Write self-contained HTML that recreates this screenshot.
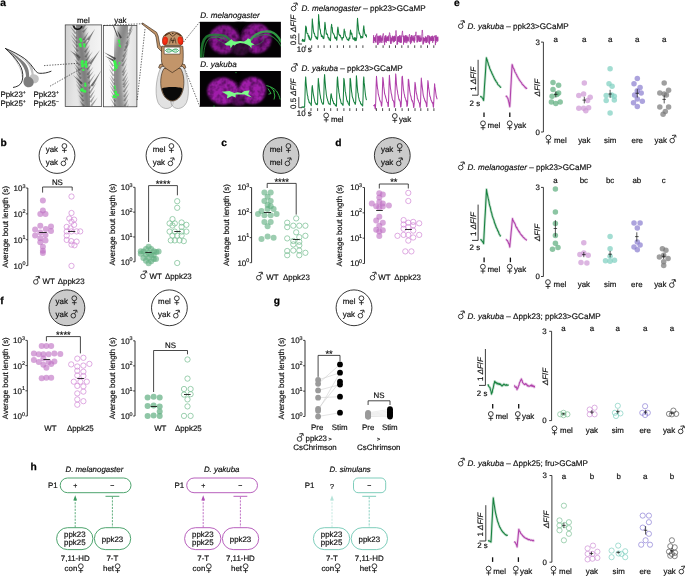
<!DOCTYPE html>
<html><head><meta charset="utf-8"><title>figure</title><style>html,body{margin:0;padding:0;background:#fff}svg{display:block;will-change:transform;text-rendering:geometricPrecision}</style></head><body>
<svg width="685" height="576" viewBox="0 0 685 576" font-family="'Liberation Sans', sans-serif">
<rect width="685" height="576" fill="#fff"/>
<text x="0.2" y="5.7" font-size="10.2" text-anchor="start" fill="#000" font-weight="bold" stroke="#000" stroke-width="0.25">a</text>
<text x="0.4" y="145.9" font-size="10.2" text-anchor="start" fill="#000" font-weight="bold" stroke="#000" stroke-width="0.25">b</text>
<text x="221.2" y="145.9" font-size="10.2" text-anchor="start" fill="#000" font-weight="bold" stroke="#000" stroke-width="0.25">c</text>
<text x="335.3" y="145.9" font-size="10.2" text-anchor="start" fill="#000" font-weight="bold" stroke="#000" stroke-width="0.25">d</text>
<text x="454.0" y="5.7" font-size="10.2" text-anchor="start" fill="#000" font-weight="bold" stroke="#000" stroke-width="0.25">e</text>
<text x="0.3" y="303.8" font-size="10.2" text-anchor="start" fill="#000" font-weight="bold" stroke="#000" stroke-width="0.25">f</text>
<text x="273.8" y="303.6" font-size="10.2" text-anchor="start" fill="#000" font-weight="bold" stroke="#000" stroke-width="0.25">g</text>
<text x="30.6" y="470.3" font-size="10.2" text-anchor="start" fill="#000" font-weight="bold" stroke="#000" stroke-width="0.25">h</text>
<circle cx="57" cy="155.5" r="17.9" fill="#ffffff" stroke="#222" stroke-width="0.9"/>
<text x="45.7" y="151.5" font-size="7.9" text-anchor="start" fill="#111" stroke="#111" stroke-width="0.18" >yak</text>
<g stroke="#1a1a1a" stroke-width="0.85" fill="none"><circle cx="64.40" cy="146.00" r="2.4"/><path d="M64.40 148.40V152.80M62.05 150.40H66.75"/></g>
<text x="45.7" y="164.6" font-size="7.9" text-anchor="start" fill="#111" stroke="#111" stroke-width="0.18" >yak</text>
<g stroke="#1a1a1a" stroke-width="0.85" fill="none"><circle cx="63.40" cy="163.40" r="2.3"/><path d="M64.70 161.50L66.60 158.10"/><path d="M63.20 158.30L66.80 157.80L67.30 160.20" stroke-linejoin="miter"/></g>
<path d="M27.8 188.0V265.6" stroke="#1a1a1a" stroke-width="0.9" fill="none"/>
<path d="M25.900000000000002 188.0H27.8" stroke="#1a1a1a" stroke-width="0.8"/>
<text x="22.5" y="190.9" font-size="8.0" text-anchor="end" fill="#111" stroke="#111" stroke-width="0.18" >10</text>
<text x="22.4" y="187.6" font-size="5.4" text-anchor="start" fill="#111" stroke="#111" stroke-width="0.18" >3</text>
<path d="M25.900000000000002 213.86666666666667H27.8" stroke="#1a1a1a" stroke-width="0.8"/>
<text x="22.5" y="216.76666666666668" font-size="8.0" text-anchor="end" fill="#111" stroke="#111" stroke-width="0.18" >10</text>
<text x="22.4" y="213.46666666666667" font-size="5.4" text-anchor="start" fill="#111" stroke="#111" stroke-width="0.18" >2</text>
<path d="M25.900000000000002 239.73333333333335H27.8" stroke="#1a1a1a" stroke-width="0.8"/>
<text x="22.5" y="242.63333333333335" font-size="8.0" text-anchor="end" fill="#111" stroke="#111" stroke-width="0.18" >10</text>
<text x="22.4" y="239.33333333333334" font-size="5.4" text-anchor="start" fill="#111" stroke="#111" stroke-width="0.18" >1</text>
<path d="M25.900000000000002 265.6H27.8" stroke="#1a1a1a" stroke-width="0.8"/>
<text x="22.5" y="268.5" font-size="8.0" text-anchor="end" fill="#111" stroke="#111" stroke-width="0.18" >10</text>
<text x="22.4" y="265.20000000000005" font-size="5.4" text-anchor="start" fill="#111" stroke="#111" stroke-width="0.18" >0</text>
<text x="8.3" y="226.8" font-size="7.9" text-anchor="middle" fill="#111" stroke="#111" stroke-width="0.18" transform="rotate(-90 8.3 226.8)" >Average bout length (s)</text>
<path d="M42.6 192.6V187.0H72.2V190.6" stroke="#1a1a1a" stroke-width="0.8" fill="none"/>
<text x="57.400000000000006" y="184.6" font-size="7.9" text-anchor="middle" fill="#111" stroke="#111" stroke-width="0.18" >NS</text>
<circle cx="42.9" cy="200.5" r="3.0" fill="#bf6fc3" fill-opacity="0.62"/>
<circle cx="42.9" cy="210.6" r="3.0" fill="#bf6fc3" fill-opacity="0.62"/>
<circle cx="40.3" cy="213.9" r="3.0" fill="#bf6fc3" fill-opacity="0.62"/>
<circle cx="45.5" cy="213.9" r="3.0" fill="#bf6fc3" fill-opacity="0.62"/>
<circle cx="40.3" cy="225.7" r="3.0" fill="#bf6fc3" fill-opacity="0.62"/>
<circle cx="51.0" cy="226.5" r="3.0" fill="#bf6fc3" fill-opacity="0.62"/>
<circle cx="35.1" cy="229.5" r="3.0" fill="#bf6fc3" fill-opacity="0.62"/>
<circle cx="45.8" cy="229.1" r="3.0" fill="#bf6fc3" fill-opacity="0.62"/>
<circle cx="51.0" cy="231.0" r="3.0" fill="#bf6fc3" fill-opacity="0.62"/>
<circle cx="40.3" cy="232.6" r="3.0" fill="#bf6fc3" fill-opacity="0.62"/>
<circle cx="45.5" cy="234.9" r="3.0" fill="#bf6fc3" fill-opacity="0.62"/>
<circle cx="35.1" cy="235.6" r="3.0" fill="#bf6fc3" fill-opacity="0.62"/>
<circle cx="40.3" cy="238.2" r="3.0" fill="#bf6fc3" fill-opacity="0.62"/>
<circle cx="45.5" cy="240.4" r="3.0" fill="#bf6fc3" fill-opacity="0.62"/>
<circle cx="40.3" cy="242.2" r="3.0" fill="#bf6fc3" fill-opacity="0.62"/>
<circle cx="42.9" cy="246.8" r="3.0" fill="#bf6fc3" fill-opacity="0.62"/>
<circle cx="42.9" cy="250.8" r="3.0" fill="#bf6fc3" fill-opacity="0.62"/>
<circle cx="42.9" cy="253.1" r="3.0" fill="#bf6fc3" fill-opacity="0.62"/>
<circle cx="71.5" cy="196.5" r="2.65" fill="none" stroke="#d48fd8" stroke-width="0.75"/>
<circle cx="71.5" cy="213.0" r="2.65" fill="none" stroke="#d48fd8" stroke-width="0.75"/>
<circle cx="69.3" cy="218.5" r="2.65" fill="none" stroke="#d48fd8" stroke-width="0.75"/>
<circle cx="74.1" cy="219.6" r="2.65" fill="none" stroke="#d48fd8" stroke-width="0.75"/>
<circle cx="71.5" cy="221.7" r="2.65" fill="none" stroke="#d48fd8" stroke-width="0.75"/>
<circle cx="74.1" cy="224.8" r="2.65" fill="none" stroke="#d48fd8" stroke-width="0.75"/>
<circle cx="66.7" cy="226.9" r="2.65" fill="none" stroke="#d48fd8" stroke-width="0.75"/>
<circle cx="70.5" cy="228.3" r="2.65" fill="none" stroke="#d48fd8" stroke-width="0.75"/>
<circle cx="66.7" cy="231.4" r="2.65" fill="none" stroke="#d48fd8" stroke-width="0.75"/>
<circle cx="71.5" cy="231.4" r="2.65" fill="none" stroke="#d48fd8" stroke-width="0.75"/>
<circle cx="76.6" cy="231.4" r="2.65" fill="none" stroke="#d48fd8" stroke-width="0.75"/>
<circle cx="80.2" cy="231.4" r="2.65" fill="none" stroke="#d48fd8" stroke-width="0.75"/>
<circle cx="66.7" cy="235.6" r="2.65" fill="none" stroke="#d48fd8" stroke-width="0.75"/>
<circle cx="66.7" cy="239.9" r="2.65" fill="none" stroke="#d48fd8" stroke-width="0.75"/>
<circle cx="71.2" cy="241.1" r="2.65" fill="none" stroke="#d48fd8" stroke-width="0.75"/>
<circle cx="76.6" cy="241.6" r="2.65" fill="none" stroke="#d48fd8" stroke-width="0.75"/>
<circle cx="71.5" cy="244.6" r="2.65" fill="none" stroke="#d48fd8" stroke-width="0.75"/>
<circle cx="74.5" cy="245.3" r="2.65" fill="none" stroke="#d48fd8" stroke-width="0.75"/>
<circle cx="71.5" cy="265.9" r="2.65" fill="none" stroke="#d48fd8" stroke-width="0.75"/>
<path d="M39.2 232.5H46.7" stroke="#1a1a1a" stroke-width="0.9"/>
<path d="M68.1 231.5H75.3" stroke="#1a1a1a" stroke-width="0.9"/>
<g stroke="#1a1a1a" stroke-width="0.85" fill="none"><circle cx="35.80" cy="281.90" r="2.3"/><path d="M37.10 280.00L39.00 276.60"/><path d="M35.60 276.80L39.20 276.30L39.70 278.70" stroke-linejoin="miter"/></g>
<text x="42.6" y="284.3" font-size="7.9" text-anchor="start" fill="#111" stroke="#111" stroke-width="0.18" >WT</text>
<text x="57.8" y="284.3" font-size="7.9" text-anchor="start" fill="#111" stroke="#111" stroke-width="0.18" >Δppk23</text>
<circle cx="164" cy="155.5" r="17.9" fill="#ffffff" stroke="#222" stroke-width="0.9"/>
<text x="152.7" y="151.5" font-size="7.9" text-anchor="start" fill="#111" stroke="#111" stroke-width="0.18" >mel</text>
<g stroke="#1a1a1a" stroke-width="0.85" fill="none"><circle cx="171.40" cy="146.00" r="2.4"/><path d="M171.40 148.40V152.80M169.05 150.40H173.75"/></g>
<text x="152.7" y="164.6" font-size="7.9" text-anchor="start" fill="#111" stroke="#111" stroke-width="0.18" >yak</text>
<g stroke="#1a1a1a" stroke-width="0.85" fill="none"><circle cx="170.40" cy="163.40" r="2.3"/><path d="M171.70 161.50L173.60 158.10"/><path d="M170.20 158.30L173.80 157.80L174.30 160.20" stroke-linejoin="miter"/></g>
<path d="M135.0 187.3V261.8" stroke="#1a1a1a" stroke-width="0.9" fill="none"/>
<path d="M133.1 187.3H135.0" stroke="#1a1a1a" stroke-width="0.8"/>
<text x="129.7" y="190.20000000000002" font-size="8.0" text-anchor="end" fill="#111" stroke="#111" stroke-width="0.18" >10</text>
<text x="129.6" y="186.9" font-size="5.4" text-anchor="start" fill="#111" stroke="#111" stroke-width="0.18" >3</text>
<path d="M133.1 212.13333333333335H135.0" stroke="#1a1a1a" stroke-width="0.8"/>
<text x="129.7" y="215.03333333333336" font-size="8.0" text-anchor="end" fill="#111" stroke="#111" stroke-width="0.18" >10</text>
<text x="129.6" y="211.73333333333335" font-size="5.4" text-anchor="start" fill="#111" stroke="#111" stroke-width="0.18" >2</text>
<path d="M133.1 236.96666666666667H135.0" stroke="#1a1a1a" stroke-width="0.8"/>
<text x="129.7" y="239.86666666666667" font-size="8.0" text-anchor="end" fill="#111" stroke="#111" stroke-width="0.18" >10</text>
<text x="129.6" y="236.56666666666666" font-size="5.4" text-anchor="start" fill="#111" stroke="#111" stroke-width="0.18" >1</text>
<path d="M133.1 261.8H135.0" stroke="#1a1a1a" stroke-width="0.8"/>
<text x="129.7" y="264.7" font-size="8.0" text-anchor="end" fill="#111" stroke="#111" stroke-width="0.18" >10</text>
<text x="129.6" y="261.40000000000003" font-size="5.4" text-anchor="start" fill="#111" stroke="#111" stroke-width="0.18" >0</text>
<text x="115.5" y="224.55" font-size="7.9" text-anchor="middle" fill="#111" stroke="#111" stroke-width="0.18" transform="rotate(-90 115.5 224.55)" >Average bout length (s)</text>
<path d="M148.6 242V185.6H177.4V195.3" stroke="#1a1a1a" stroke-width="0.8" fill="none"/>
<text x="163.0" y="186.8" font-size="9.4" text-anchor="middle" fill="#111" stroke="#111" stroke-width="0.18" >****</text>
<circle cx="148.6" cy="246.8" r="3.0" fill="#5fae80" fill-opacity="0.62"/>
<circle cx="146.0" cy="249.1" r="3.0" fill="#5fae80" fill-opacity="0.62"/>
<circle cx="151.2" cy="249.1" r="3.0" fill="#5fae80" fill-opacity="0.62"/>
<circle cx="140.8" cy="251.2" r="3.0" fill="#5fae80" fill-opacity="0.62"/>
<circle cx="143.5" cy="251.5" r="3.0" fill="#5fae80" fill-opacity="0.62"/>
<circle cx="153.8" cy="251.2" r="3.0" fill="#5fae80" fill-opacity="0.62"/>
<circle cx="156.4" cy="252.0" r="3.0" fill="#5fae80" fill-opacity="0.62"/>
<circle cx="158.6" cy="251.5" r="3.0" fill="#5fae80" fill-opacity="0.62"/>
<circle cx="148.6" cy="252.9" r="3.0" fill="#5fae80" fill-opacity="0.62"/>
<circle cx="146.0" cy="254.7" r="3.0" fill="#5fae80" fill-opacity="0.62"/>
<circle cx="151.2" cy="255.0" r="3.0" fill="#5fae80" fill-opacity="0.62"/>
<circle cx="140.8" cy="253.8" r="3.0" fill="#5fae80" fill-opacity="0.62"/>
<circle cx="153.8" cy="255.0" r="3.0" fill="#5fae80" fill-opacity="0.62"/>
<circle cx="143.4" cy="258.1" r="3.0" fill="#5fae80" fill-opacity="0.62"/>
<circle cx="148.6" cy="258.1" r="3.0" fill="#5fae80" fill-opacity="0.62"/>
<circle cx="153.8" cy="259.0" r="3.0" fill="#5fae80" fill-opacity="0.62"/>
<circle cx="156.0" cy="259.0" r="3.0" fill="#5fae80" fill-opacity="0.62"/>
<circle cx="146.0" cy="260.7" r="3.0" fill="#5fae80" fill-opacity="0.62"/>
<circle cx="151.2" cy="261.2" r="3.0" fill="#5fae80" fill-opacity="0.62"/>
<circle cx="148.6" cy="263.3" r="3.0" fill="#5fae80" fill-opacity="0.62"/>
<circle cx="177.2" cy="201.2" r="2.65" fill="none" stroke="#7cc095" stroke-width="0.75"/>
<circle cx="177.2" cy="207.8" r="2.65" fill="none" stroke="#7cc095" stroke-width="0.75"/>
<circle cx="172.5" cy="219.1" r="2.65" fill="none" stroke="#7cc095" stroke-width="0.75"/>
<circle cx="169.6" cy="223.4" r="2.65" fill="none" stroke="#7cc095" stroke-width="0.75"/>
<circle cx="174.8" cy="223.4" r="2.65" fill="none" stroke="#7cc095" stroke-width="0.75"/>
<circle cx="181.6" cy="222.5" r="2.65" fill="none" stroke="#7cc095" stroke-width="0.75"/>
<circle cx="186.4" cy="224.8" r="2.65" fill="none" stroke="#7cc095" stroke-width="0.75"/>
<circle cx="172.5" cy="225.5" r="2.65" fill="none" stroke="#7cc095" stroke-width="0.75"/>
<circle cx="181.6" cy="226.9" r="2.65" fill="none" stroke="#7cc095" stroke-width="0.75"/>
<circle cx="169.6" cy="231.6" r="2.65" fill="none" stroke="#7cc095" stroke-width="0.75"/>
<circle cx="174.8" cy="231.6" r="2.65" fill="none" stroke="#7cc095" stroke-width="0.75"/>
<circle cx="181.6" cy="231.6" r="2.65" fill="none" stroke="#7cc095" stroke-width="0.75"/>
<circle cx="186.4" cy="231.6" r="2.65" fill="none" stroke="#7cc095" stroke-width="0.75"/>
<circle cx="172.5" cy="235.6" r="2.65" fill="none" stroke="#7cc095" stroke-width="0.75"/>
<circle cx="177.2" cy="235.6" r="2.65" fill="none" stroke="#7cc095" stroke-width="0.75"/>
<circle cx="181.6" cy="235.6" r="2.65" fill="none" stroke="#7cc095" stroke-width="0.75"/>
<circle cx="170.8" cy="240.4" r="2.65" fill="none" stroke="#7cc095" stroke-width="0.75"/>
<circle cx="174.8" cy="240.4" r="2.65" fill="none" stroke="#7cc095" stroke-width="0.75"/>
<circle cx="179.5" cy="240.4" r="2.65" fill="none" stroke="#7cc095" stroke-width="0.75"/>
<circle cx="183.8" cy="241.1" r="2.65" fill="none" stroke="#7cc095" stroke-width="0.75"/>
<circle cx="177.2" cy="263.0" r="2.65" fill="none" stroke="#7cc095" stroke-width="0.75"/>
<path d="M145.3 252.5H151.7" stroke="#1a1a1a" stroke-width="0.9"/>
<path d="M174.3 231.5H180.7" stroke="#1a1a1a" stroke-width="0.9"/>
<g stroke="#1a1a1a" stroke-width="0.85" fill="none"><circle cx="143.00" cy="276.40" r="2.3"/><path d="M144.30 274.50L146.20 271.10"/><path d="M142.80 271.30L146.40 270.80L146.90 273.20" stroke-linejoin="miter"/></g>
<text x="149.6" y="278.8" font-size="7.9" text-anchor="start" fill="#111" stroke="#111" stroke-width="0.18" >WT</text>
<text x="164.9" y="278.8" font-size="7.9" text-anchor="start" fill="#111" stroke="#111" stroke-width="0.18" >Δppk23</text>
<circle cx="281.0" cy="155.5" r="17.9" fill="#cbcbcb" stroke="#222" stroke-width="0.9"/>
<text x="269.7" y="151.5" font-size="7.9" text-anchor="start" fill="#111" stroke="#111" stroke-width="0.18" >mel</text>
<g stroke="#1a1a1a" stroke-width="0.85" fill="none"><circle cx="288.40" cy="146.00" r="2.4"/><path d="M288.40 148.40V152.80M286.05 150.40H290.75"/></g>
<text x="269.7" y="164.6" font-size="7.9" text-anchor="start" fill="#111" stroke="#111" stroke-width="0.18" >mel</text>
<g stroke="#1a1a1a" stroke-width="0.85" fill="none"><circle cx="287.40" cy="163.40" r="2.3"/><path d="M288.70 161.50L290.60 158.10"/><path d="M287.20 158.30L290.80 157.80L291.30 160.20" stroke-linejoin="miter"/></g>
<path d="M251.6 187.5V262.7" stroke="#1a1a1a" stroke-width="0.9" fill="none"/>
<path d="M249.7 187.5H251.6" stroke="#1a1a1a" stroke-width="0.8"/>
<text x="246.29999999999998" y="190.4" font-size="8.0" text-anchor="end" fill="#111" stroke="#111" stroke-width="0.18" >10</text>
<text x="246.2" y="187.1" font-size="5.4" text-anchor="start" fill="#111" stroke="#111" stroke-width="0.18" >3</text>
<path d="M249.7 212.56666666666666H251.6" stroke="#1a1a1a" stroke-width="0.8"/>
<text x="246.29999999999998" y="215.46666666666667" font-size="8.0" text-anchor="end" fill="#111" stroke="#111" stroke-width="0.18" >10</text>
<text x="246.2" y="212.16666666666666" font-size="5.4" text-anchor="start" fill="#111" stroke="#111" stroke-width="0.18" >2</text>
<path d="M249.7 237.63333333333333H251.6" stroke="#1a1a1a" stroke-width="0.8"/>
<text x="246.29999999999998" y="240.53333333333333" font-size="8.0" text-anchor="end" fill="#111" stroke="#111" stroke-width="0.18" >10</text>
<text x="246.2" y="237.23333333333332" font-size="5.4" text-anchor="start" fill="#111" stroke="#111" stroke-width="0.18" >1</text>
<path d="M249.7 262.7H251.6" stroke="#1a1a1a" stroke-width="0.8"/>
<text x="246.29999999999998" y="265.59999999999997" font-size="8.0" text-anchor="end" fill="#111" stroke="#111" stroke-width="0.18" >10</text>
<text x="246.2" y="262.3" font-size="5.4" text-anchor="start" fill="#111" stroke="#111" stroke-width="0.18" >0</text>
<text x="228.6" y="225.1" font-size="7.9" text-anchor="middle" fill="#111" stroke="#111" stroke-width="0.18" transform="rotate(-90 228.6 225.1)" >Average bout length (s)</text>
<path d="M267.2 188V183.4H296.2V214.6" stroke="#1a1a1a" stroke-width="0.8" fill="none"/>
<text x="281.7" y="184.5" font-size="9.4" text-anchor="middle" fill="#111" stroke="#111" stroke-width="0.18" >****</text>
<circle cx="264.4" cy="192.4" r="3.0" fill="#5fae80" fill-opacity="0.62"/>
<circle cx="270.7" cy="192.4" r="3.0" fill="#5fae80" fill-opacity="0.62"/>
<circle cx="267.6" cy="196.7" r="3.0" fill="#5fae80" fill-opacity="0.62"/>
<circle cx="264.4" cy="201.0" r="3.0" fill="#5fae80" fill-opacity="0.62"/>
<circle cx="270.7" cy="201.0" r="3.0" fill="#5fae80" fill-opacity="0.62"/>
<circle cx="267.6" cy="204.9" r="3.0" fill="#5fae80" fill-opacity="0.62"/>
<circle cx="270.7" cy="206.2" r="3.0" fill="#5fae80" fill-opacity="0.62"/>
<circle cx="273.6" cy="208.9" r="3.0" fill="#5fae80" fill-opacity="0.62"/>
<circle cx="261.5" cy="211.1" r="3.0" fill="#5fae80" fill-opacity="0.62"/>
<circle cx="267.6" cy="208.9" r="3.0" fill="#5fae80" fill-opacity="0.62"/>
<circle cx="258.0" cy="214.1" r="3.0" fill="#5fae80" fill-opacity="0.62"/>
<circle cx="264.4" cy="215.3" r="3.0" fill="#5fae80" fill-opacity="0.62"/>
<circle cx="270.7" cy="215.3" r="3.0" fill="#5fae80" fill-opacity="0.62"/>
<circle cx="276.6" cy="214.1" r="3.0" fill="#5fae80" fill-opacity="0.62"/>
<circle cx="264.4" cy="221.9" r="3.0" fill="#5fae80" fill-opacity="0.62"/>
<circle cx="270.7" cy="221.9" r="3.0" fill="#5fae80" fill-opacity="0.62"/>
<circle cx="267.6" cy="226.2" r="3.0" fill="#5fae80" fill-opacity="0.62"/>
<circle cx="261.5" cy="238.9" r="3.0" fill="#5fae80" fill-opacity="0.62"/>
<circle cx="267.6" cy="236.6" r="3.0" fill="#5fae80" fill-opacity="0.62"/>
<circle cx="273.6" cy="237.8" r="3.0" fill="#5fae80" fill-opacity="0.62"/>
<circle cx="296.2" cy="218.4" r="2.65" fill="none" stroke="#7cc095" stroke-width="0.75"/>
<circle cx="287.2" cy="222.7" r="2.65" fill="none" stroke="#7cc095" stroke-width="0.75"/>
<circle cx="287.2" cy="227.1" r="2.65" fill="none" stroke="#7cc095" stroke-width="0.75"/>
<circle cx="293.3" cy="225.7" r="2.65" fill="none" stroke="#7cc095" stroke-width="0.75"/>
<circle cx="299.3" cy="225.7" r="2.65" fill="none" stroke="#7cc095" stroke-width="0.75"/>
<circle cx="305.4" cy="225.7" r="2.65" fill="none" stroke="#7cc095" stroke-width="0.75"/>
<circle cx="296.2" cy="232.3" r="2.65" fill="none" stroke="#7cc095" stroke-width="0.75"/>
<circle cx="305.4" cy="235.8" r="2.65" fill="none" stroke="#7cc095" stroke-width="0.75"/>
<circle cx="287.2" cy="238.4" r="2.65" fill="none" stroke="#7cc095" stroke-width="0.75"/>
<circle cx="299.3" cy="237.2" r="2.65" fill="none" stroke="#7cc095" stroke-width="0.75"/>
<circle cx="293.3" cy="241.0" r="2.65" fill="none" stroke="#7cc095" stroke-width="0.75"/>
<circle cx="299.3" cy="241.8" r="2.65" fill="none" stroke="#7cc095" stroke-width="0.75"/>
<circle cx="293.3" cy="244.4" r="2.65" fill="none" stroke="#7cc095" stroke-width="0.75"/>
<circle cx="299.3" cy="245.3" r="2.65" fill="none" stroke="#7cc095" stroke-width="0.75"/>
<circle cx="287.2" cy="251.0" r="2.65" fill="none" stroke="#7cc095" stroke-width="0.75"/>
<circle cx="293.3" cy="250.5" r="2.65" fill="none" stroke="#7cc095" stroke-width="0.75"/>
<circle cx="299.3" cy="250.5" r="2.65" fill="none" stroke="#7cc095" stroke-width="0.75"/>
<circle cx="305.4" cy="252.8" r="2.65" fill="none" stroke="#7cc095" stroke-width="0.75"/>
<circle cx="287.2" cy="255.2" r="2.65" fill="none" stroke="#7cc095" stroke-width="0.75"/>
<circle cx="299.3" cy="255.2" r="2.65" fill="none" stroke="#7cc095" stroke-width="0.75"/>
<path d="M263.8 212.5H271.0" stroke="#1a1a1a" stroke-width="0.9"/>
<path d="M292.7 239.5H299.7" stroke="#1a1a1a" stroke-width="0.9"/>
<g stroke="#1a1a1a" stroke-width="0.85" fill="none"><circle cx="258.80" cy="277.70" r="2.3"/><path d="M260.10 275.80L262.00 272.40"/><path d="M258.60 272.60L262.20 272.10L262.70 274.50" stroke-linejoin="miter"/></g>
<text x="266.3" y="280.1" font-size="7.9" text-anchor="start" fill="#111" stroke="#111" stroke-width="0.18" >WT</text>
<text x="283.0" y="280.1" font-size="7.9" text-anchor="start" fill="#111" stroke="#111" stroke-width="0.18" >Δppk23</text>
<circle cx="392.3" cy="155.5" r="17.9" fill="#cbcbcb" stroke="#222" stroke-width="0.9"/>
<text x="381.0" y="151.5" font-size="7.9" text-anchor="start" fill="#111" stroke="#111" stroke-width="0.18" >yak</text>
<g stroke="#1a1a1a" stroke-width="0.85" fill="none"><circle cx="399.70" cy="146.00" r="2.4"/><path d="M399.70 148.40V152.80M397.35 150.40H402.05"/></g>
<text x="381.0" y="164.6" font-size="7.9" text-anchor="start" fill="#111" stroke="#111" stroke-width="0.18" >yak</text>
<g stroke="#1a1a1a" stroke-width="0.85" fill="none"><circle cx="398.70" cy="163.40" r="2.3"/><path d="M400.00 161.50L401.90 158.10"/><path d="M398.50 158.30L402.10 157.80L402.60 160.20" stroke-linejoin="miter"/></g>
<path d="M364.5 187.5V263.5" stroke="#1a1a1a" stroke-width="0.9" fill="none"/>
<path d="M362.6 187.5H364.5" stroke="#1a1a1a" stroke-width="0.8"/>
<text x="359.2" y="190.4" font-size="8.0" text-anchor="end" fill="#111" stroke="#111" stroke-width="0.18" >10</text>
<text x="359.1" y="187.1" font-size="5.4" text-anchor="start" fill="#111" stroke="#111" stroke-width="0.18" >3</text>
<path d="M362.6 212.83333333333334H364.5" stroke="#1a1a1a" stroke-width="0.8"/>
<text x="359.2" y="215.73333333333335" font-size="8.0" text-anchor="end" fill="#111" stroke="#111" stroke-width="0.18" >10</text>
<text x="359.1" y="212.43333333333334" font-size="5.4" text-anchor="start" fill="#111" stroke="#111" stroke-width="0.18" >2</text>
<path d="M362.6 238.16666666666666H364.5" stroke="#1a1a1a" stroke-width="0.8"/>
<text x="359.2" y="241.06666666666666" font-size="8.0" text-anchor="end" fill="#111" stroke="#111" stroke-width="0.18" >10</text>
<text x="359.1" y="237.76666666666665" font-size="5.4" text-anchor="start" fill="#111" stroke="#111" stroke-width="0.18" >1</text>
<path d="M362.6 263.5H364.5" stroke="#1a1a1a" stroke-width="0.8"/>
<text x="359.2" y="266.4" font-size="8.0" text-anchor="end" fill="#111" stroke="#111" stroke-width="0.18" >10</text>
<text x="359.1" y="263.1" font-size="5.4" text-anchor="start" fill="#111" stroke="#111" stroke-width="0.18" >0</text>
<text x="341.6" y="225.5" font-size="7.9" text-anchor="middle" fill="#111" stroke="#111" stroke-width="0.18" transform="rotate(-90 341.6 225.5)" >Average bout length (s)</text>
<path d="M379.3 188.5V184.0H408.3V188.5" stroke="#1a1a1a" stroke-width="0.8" fill="none"/>
<text x="393.8" y="185.1" font-size="9.4" text-anchor="middle" fill="#111" stroke="#111" stroke-width="0.18" >**</text>
<circle cx="379.3" cy="193.2" r="3.0" fill="#bf6fc3" fill-opacity="0.62"/>
<circle cx="382.8" cy="194.4" r="3.0" fill="#bf6fc3" fill-opacity="0.62"/>
<circle cx="379.3" cy="197.6" r="3.0" fill="#bf6fc3" fill-opacity="0.62"/>
<circle cx="379.3" cy="201.9" r="3.0" fill="#bf6fc3" fill-opacity="0.62"/>
<circle cx="371.8" cy="203.6" r="3.0" fill="#bf6fc3" fill-opacity="0.62"/>
<circle cx="382.8" cy="203.6" r="3.0" fill="#bf6fc3" fill-opacity="0.62"/>
<circle cx="376.2" cy="206.2" r="3.0" fill="#bf6fc3" fill-opacity="0.62"/>
<circle cx="382.8" cy="206.6" r="3.0" fill="#bf6fc3" fill-opacity="0.62"/>
<circle cx="388.9" cy="205.4" r="3.0" fill="#bf6fc3" fill-opacity="0.62"/>
<circle cx="379.3" cy="207.5" r="3.0" fill="#bf6fc3" fill-opacity="0.62"/>
<circle cx="379.3" cy="216.7" r="3.0" fill="#bf6fc3" fill-opacity="0.62"/>
<circle cx="376.2" cy="220.5" r="3.0" fill="#bf6fc3" fill-opacity="0.62"/>
<circle cx="382.8" cy="222.7" r="3.0" fill="#bf6fc3" fill-opacity="0.62"/>
<circle cx="379.3" cy="225.7" r="3.0" fill="#bf6fc3" fill-opacity="0.62"/>
<circle cx="376.2" cy="229.7" r="3.0" fill="#bf6fc3" fill-opacity="0.62"/>
<circle cx="382.8" cy="230.2" r="3.0" fill="#bf6fc3" fill-opacity="0.62"/>
<circle cx="379.3" cy="231.4" r="3.0" fill="#bf6fc3" fill-opacity="0.62"/>
<circle cx="379.3" cy="236.1" r="3.0" fill="#bf6fc3" fill-opacity="0.62"/>
<circle cx="408.3" cy="192.9" r="2.65" fill="none" stroke="#d48fd8" stroke-width="0.75"/>
<circle cx="408.3" cy="201.0" r="2.65" fill="none" stroke="#d48fd8" stroke-width="0.75"/>
<circle cx="403.6" cy="220.1" r="2.65" fill="none" stroke="#d48fd8" stroke-width="0.75"/>
<circle cx="408.3" cy="222.7" r="2.65" fill="none" stroke="#d48fd8" stroke-width="0.75"/>
<circle cx="413.2" cy="221.9" r="2.65" fill="none" stroke="#d48fd8" stroke-width="0.75"/>
<circle cx="419.2" cy="223.3" r="2.65" fill="none" stroke="#d48fd8" stroke-width="0.75"/>
<circle cx="403.6" cy="224.5" r="2.65" fill="none" stroke="#d48fd8" stroke-width="0.75"/>
<circle cx="413.2" cy="225.3" r="2.65" fill="none" stroke="#d48fd8" stroke-width="0.75"/>
<circle cx="403.6" cy="228.8" r="2.65" fill="none" stroke="#d48fd8" stroke-width="0.75"/>
<circle cx="408.3" cy="227.1" r="2.65" fill="none" stroke="#d48fd8" stroke-width="0.75"/>
<circle cx="413.2" cy="230.6" r="2.65" fill="none" stroke="#d48fd8" stroke-width="0.75"/>
<circle cx="397.5" cy="235.8" r="2.65" fill="none" stroke="#d48fd8" stroke-width="0.75"/>
<circle cx="403.6" cy="234.9" r="2.65" fill="none" stroke="#d48fd8" stroke-width="0.75"/>
<circle cx="408.3" cy="234.9" r="2.65" fill="none" stroke="#d48fd8" stroke-width="0.75"/>
<circle cx="419.2" cy="234.9" r="2.65" fill="none" stroke="#d48fd8" stroke-width="0.75"/>
<circle cx="413.2" cy="237.5" r="2.65" fill="none" stroke="#d48fd8" stroke-width="0.75"/>
<circle cx="408.3" cy="240.6" r="2.65" fill="none" stroke="#d48fd8" stroke-width="0.75"/>
<circle cx="405.3" cy="251.4" r="2.65" fill="none" stroke="#d48fd8" stroke-width="0.75"/>
<circle cx="411.4" cy="251.4" r="2.65" fill="none" stroke="#d48fd8" stroke-width="0.75"/>
<path d="M376.2 210.5H382.8" stroke="#1a1a1a" stroke-width="0.9"/>
<path d="M405.0 229.5H411.9" stroke="#1a1a1a" stroke-width="0.9"/>
<g stroke="#1a1a1a" stroke-width="0.85" fill="none"><circle cx="372.50" cy="277.70" r="2.3"/><path d="M373.80 275.80L375.70 272.40"/><path d="M372.30 272.60L375.90 272.10L376.40 274.50" stroke-linejoin="miter"/></g>
<text x="378.3" y="280.1" font-size="7.9" text-anchor="start" fill="#111" stroke="#111" stroke-width="0.18" >WT</text>
<text x="394.2" y="280.1" font-size="7.9" text-anchor="start" fill="#111" stroke="#111" stroke-width="0.18" >Δppk23</text>
<circle cx="66.9" cy="307.8" r="17.9" fill="#cbcbcb" stroke="#222" stroke-width="0.9"/>
<text x="55.60000000000001" y="303.8" font-size="7.9" text-anchor="start" fill="#111" stroke="#111" stroke-width="0.18" >yak</text>
<g stroke="#1a1a1a" stroke-width="0.85" fill="none"><circle cx="74.30" cy="298.30" r="2.4"/><path d="M74.30 300.70V305.10M71.95 302.70H76.65"/></g>
<text x="55.60000000000001" y="316.90000000000003" font-size="7.9" text-anchor="start" fill="#111" stroke="#111" stroke-width="0.18" >yak</text>
<g stroke="#1a1a1a" stroke-width="0.85" fill="none"><circle cx="73.30" cy="315.70" r="2.3"/><path d="M74.60 313.80L76.50 310.40"/><path d="M73.10 310.60L76.70 310.10L77.20 312.50" stroke-linejoin="miter"/></g>
<path d="M27.3 340.4V416.0" stroke="#1a1a1a" stroke-width="0.9" fill="none"/>
<path d="M25.400000000000002 340.4H27.3" stroke="#1a1a1a" stroke-width="0.8"/>
<text x="22.0" y="343.29999999999995" font-size="8.0" text-anchor="end" fill="#111" stroke="#111" stroke-width="0.18" >10</text>
<text x="21.9" y="340.0" font-size="5.4" text-anchor="start" fill="#111" stroke="#111" stroke-width="0.18" >3</text>
<path d="M25.400000000000002 365.59999999999997H27.3" stroke="#1a1a1a" stroke-width="0.8"/>
<text x="22.0" y="368.49999999999994" font-size="8.0" text-anchor="end" fill="#111" stroke="#111" stroke-width="0.18" >10</text>
<text x="21.9" y="365.2" font-size="5.4" text-anchor="start" fill="#111" stroke="#111" stroke-width="0.18" >2</text>
<path d="M25.400000000000002 390.8H27.3" stroke="#1a1a1a" stroke-width="0.8"/>
<text x="22.0" y="393.7" font-size="8.0" text-anchor="end" fill="#111" stroke="#111" stroke-width="0.18" >10</text>
<text x="21.9" y="390.40000000000003" font-size="5.4" text-anchor="start" fill="#111" stroke="#111" stroke-width="0.18" >1</text>
<path d="M25.400000000000002 416.0H27.3" stroke="#1a1a1a" stroke-width="0.8"/>
<text x="22.0" y="418.9" font-size="8.0" text-anchor="end" fill="#111" stroke="#111" stroke-width="0.18" >10</text>
<text x="21.9" y="415.6" font-size="5.4" text-anchor="start" fill="#111" stroke="#111" stroke-width="0.18" >0</text>
<text x="7.800000000000001" y="378.2" font-size="7.9" text-anchor="middle" fill="#111" stroke="#111" stroke-width="0.18" transform="rotate(-90 7.800000000000001 378.2)" >Average bout length (s)</text>
<path d="M46.4 341.3V336.6H80.4V353.4" stroke="#1a1a1a" stroke-width="0.8" fill="none"/>
<text x="63.400000000000006" y="337.7" font-size="9.4" text-anchor="middle" fill="#111" stroke="#111" stroke-width="0.18" >****</text>
<circle cx="41.7" cy="346.0" r="3.0" fill="#bf6fc3" fill-opacity="0.62"/>
<circle cx="46.4" cy="346.0" r="3.0" fill="#bf6fc3" fill-opacity="0.62"/>
<circle cx="51.2" cy="346.0" r="3.0" fill="#bf6fc3" fill-opacity="0.62"/>
<circle cx="33.9" cy="353.4" r="3.0" fill="#bf6fc3" fill-opacity="0.62"/>
<circle cx="38.8" cy="354.3" r="3.0" fill="#bf6fc3" fill-opacity="0.62"/>
<circle cx="43.4" cy="354.3" r="3.0" fill="#bf6fc3" fill-opacity="0.62"/>
<circle cx="48.6" cy="354.3" r="3.0" fill="#bf6fc3" fill-opacity="0.62"/>
<circle cx="54.4" cy="353.4" r="3.0" fill="#bf6fc3" fill-opacity="0.62"/>
<circle cx="60.3" cy="354.0" r="3.0" fill="#bf6fc3" fill-opacity="0.62"/>
<circle cx="33.9" cy="359.9" r="3.0" fill="#bf6fc3" fill-opacity="0.62"/>
<circle cx="38.8" cy="362.1" r="3.0" fill="#bf6fc3" fill-opacity="0.62"/>
<circle cx="43.4" cy="358.6" r="3.0" fill="#bf6fc3" fill-opacity="0.62"/>
<circle cx="48.6" cy="362.1" r="3.0" fill="#bf6fc3" fill-opacity="0.62"/>
<circle cx="54.4" cy="361.6" r="3.0" fill="#bf6fc3" fill-opacity="0.62"/>
<circle cx="43.4" cy="364.7" r="3.0" fill="#bf6fc3" fill-opacity="0.62"/>
<circle cx="51.2" cy="363.9" r="3.0" fill="#bf6fc3" fill-opacity="0.62"/>
<circle cx="46.4" cy="367.8" r="3.0" fill="#bf6fc3" fill-opacity="0.62"/>
<circle cx="41.7" cy="378.3" r="3.0" fill="#bf6fc3" fill-opacity="0.62"/>
<circle cx="46.4" cy="377.7" r="3.0" fill="#bf6fc3" fill-opacity="0.62"/>
<circle cx="51.2" cy="377.7" r="3.0" fill="#bf6fc3" fill-opacity="0.62"/>
<circle cx="77.3" cy="358.6" r="2.65" fill="none" stroke="#d48fd8" stroke-width="0.75"/>
<circle cx="83.4" cy="357.8" r="2.65" fill="none" stroke="#d48fd8" stroke-width="0.75"/>
<circle cx="71.2" cy="364.4" r="2.65" fill="none" stroke="#d48fd8" stroke-width="0.75"/>
<circle cx="77.3" cy="366.5" r="2.65" fill="none" stroke="#d48fd8" stroke-width="0.75"/>
<circle cx="83.4" cy="365.6" r="2.65" fill="none" stroke="#d48fd8" stroke-width="0.75"/>
<circle cx="89.4" cy="363.9" r="2.65" fill="none" stroke="#d48fd8" stroke-width="0.75"/>
<circle cx="77.3" cy="370.8" r="2.65" fill="none" stroke="#d48fd8" stroke-width="0.75"/>
<circle cx="83.4" cy="371.7" r="2.65" fill="none" stroke="#d48fd8" stroke-width="0.75"/>
<circle cx="77.3" cy="375.5" r="2.65" fill="none" stroke="#d48fd8" stroke-width="0.75"/>
<circle cx="83.4" cy="376.0" r="2.65" fill="none" stroke="#d48fd8" stroke-width="0.75"/>
<circle cx="73.8" cy="381.7" r="2.65" fill="none" stroke="#d48fd8" stroke-width="0.75"/>
<circle cx="80.4" cy="381.7" r="2.65" fill="none" stroke="#d48fd8" stroke-width="0.75"/>
<circle cx="86.8" cy="381.7" r="2.65" fill="none" stroke="#d48fd8" stroke-width="0.75"/>
<circle cx="77.3" cy="385.9" r="2.65" fill="none" stroke="#d48fd8" stroke-width="0.75"/>
<circle cx="83.4" cy="386.4" r="2.65" fill="none" stroke="#d48fd8" stroke-width="0.75"/>
<circle cx="77.3" cy="393.4" r="2.65" fill="none" stroke="#d48fd8" stroke-width="0.75"/>
<circle cx="83.4" cy="391.6" r="2.65" fill="none" stroke="#d48fd8" stroke-width="0.75"/>
<circle cx="77.3" cy="399.4" r="2.65" fill="none" stroke="#d48fd8" stroke-width="0.75"/>
<circle cx="83.4" cy="401.2" r="2.65" fill="none" stroke="#d48fd8" stroke-width="0.75"/>
<circle cx="77.3" cy="404.7" r="2.65" fill="none" stroke="#d48fd8" stroke-width="0.75"/>
<path d="M43.4 359.5H49.9" stroke="#1a1a1a" stroke-width="0.9"/>
<path d="M77.3 378.5H83.9" stroke="#1a1a1a" stroke-width="0.9"/>
<text x="50.5" y="431.3" font-size="7.9" text-anchor="middle" fill="#111" stroke="#111" stroke-width="0.18" >WT</text>
<text x="80.3" y="431.3" font-size="7.9" text-anchor="middle" fill="#111" stroke="#111" stroke-width="0.18" >Δppk25</text>
<circle cx="169.4" cy="307.8" r="17.9" fill="#ffffff" stroke="#222" stroke-width="0.9"/>
<text x="158.1" y="303.8" font-size="7.9" text-anchor="start" fill="#111" stroke="#111" stroke-width="0.18" >mel</text>
<g stroke="#1a1a1a" stroke-width="0.85" fill="none"><circle cx="176.80" cy="298.30" r="2.4"/><path d="M176.80 300.70V305.10M174.45 302.70H179.15"/></g>
<text x="158.1" y="316.90000000000003" font-size="7.9" text-anchor="start" fill="#111" stroke="#111" stroke-width="0.18" >yak</text>
<g stroke="#1a1a1a" stroke-width="0.85" fill="none"><circle cx="175.80" cy="315.70" r="2.3"/><path d="M177.10 313.80L179.00 310.40"/><path d="M175.60 310.60L179.20 310.10L179.70 312.50" stroke-linejoin="miter"/></g>
<path d="M135.0 340.8V416.0" stroke="#1a1a1a" stroke-width="0.9" fill="none"/>
<path d="M133.1 340.8H135.0" stroke="#1a1a1a" stroke-width="0.8"/>
<text x="129.7" y="343.7" font-size="8.0" text-anchor="end" fill="#111" stroke="#111" stroke-width="0.18" >10</text>
<text x="129.6" y="340.40000000000003" font-size="5.4" text-anchor="start" fill="#111" stroke="#111" stroke-width="0.18" >3</text>
<path d="M133.1 365.8666666666667H135.0" stroke="#1a1a1a" stroke-width="0.8"/>
<text x="129.7" y="368.76666666666665" font-size="8.0" text-anchor="end" fill="#111" stroke="#111" stroke-width="0.18" >10</text>
<text x="129.6" y="365.4666666666667" font-size="5.4" text-anchor="start" fill="#111" stroke="#111" stroke-width="0.18" >2</text>
<path d="M133.1 390.93333333333334H135.0" stroke="#1a1a1a" stroke-width="0.8"/>
<text x="129.7" y="393.8333333333333" font-size="8.0" text-anchor="end" fill="#111" stroke="#111" stroke-width="0.18" >10</text>
<text x="129.6" y="390.53333333333336" font-size="5.4" text-anchor="start" fill="#111" stroke="#111" stroke-width="0.18" >1</text>
<path d="M133.1 416.0H135.0" stroke="#1a1a1a" stroke-width="0.8"/>
<text x="129.7" y="418.9" font-size="8.0" text-anchor="end" fill="#111" stroke="#111" stroke-width="0.18" >10</text>
<text x="129.6" y="415.6" font-size="5.4" text-anchor="start" fill="#111" stroke="#111" stroke-width="0.18" >0</text>
<text x="115.5" y="378.4" font-size="7.9" text-anchor="middle" fill="#111" stroke="#111" stroke-width="0.18" transform="rotate(-90 115.5 378.4)" >Average bout length (s)</text>
<path d="M153.6 392V350.5H187.5V354.3" stroke="#1a1a1a" stroke-width="0.8" fill="none"/>
<text x="170.55" y="348.0" font-size="7.9" text-anchor="middle" fill="#111" stroke="#111" stroke-width="0.18" >NS</text>
<circle cx="147.6" cy="397.4" r="3.0" fill="#5fae80" fill-opacity="0.7"/>
<circle cx="153.6" cy="396.8" r="3.0" fill="#5fae80" fill-opacity="0.7"/>
<circle cx="159.7" cy="397.4" r="3.0" fill="#5fae80" fill-opacity="0.7"/>
<circle cx="147.6" cy="406.0" r="3.0" fill="#5fae80" fill-opacity="0.7"/>
<circle cx="153.6" cy="405.5" r="3.0" fill="#5fae80" fill-opacity="0.7"/>
<circle cx="159.7" cy="406.4" r="3.0" fill="#5fae80" fill-opacity="0.7"/>
<circle cx="159.7" cy="411.6" r="3.0" fill="#5fae80" fill-opacity="0.7"/>
<circle cx="147.6" cy="415.9" r="3.0" fill="#5fae80" fill-opacity="0.7"/>
<circle cx="153.6" cy="415.4" r="3.0" fill="#5fae80" fill-opacity="0.7"/>
<circle cx="159.7" cy="415.9" r="3.0" fill="#5fae80" fill-opacity="0.7"/>
<circle cx="187.5" cy="359.5" r="2.65" fill="none" stroke="#7cc095" stroke-width="0.75"/>
<circle cx="187.5" cy="378.6" r="2.65" fill="none" stroke="#7cc095" stroke-width="0.75"/>
<circle cx="184.0" cy="389.0" r="2.65" fill="none" stroke="#7cc095" stroke-width="0.75"/>
<circle cx="190.6" cy="389.0" r="2.65" fill="none" stroke="#7cc095" stroke-width="0.75"/>
<circle cx="184.0" cy="394.6" r="2.65" fill="none" stroke="#7cc095" stroke-width="0.75"/>
<circle cx="190.6" cy="394.2" r="2.65" fill="none" stroke="#7cc095" stroke-width="0.75"/>
<circle cx="187.5" cy="399.4" r="2.65" fill="none" stroke="#7cc095" stroke-width="0.75"/>
<circle cx="187.5" cy="406.4" r="2.65" fill="none" stroke="#7cc095" stroke-width="0.75"/>
<circle cx="184.0" cy="415.9" r="2.65" fill="none" stroke="#7cc095" stroke-width="0.75"/>
<circle cx="190.6" cy="415.9" r="2.65" fill="none" stroke="#7cc095" stroke-width="0.75"/>
<path d="M150.7 406.5H157.1" stroke="#1a1a1a" stroke-width="0.9"/>
<path d="M184.0 394.5H190.6" stroke="#1a1a1a" stroke-width="0.9"/>
<text x="160.3" y="431.3" font-size="7.9" text-anchor="middle" fill="#111" stroke="#111" stroke-width="0.18" >WT</text>
<text x="188.3" y="431.3" font-size="7.9" text-anchor="middle" fill="#111" stroke="#111" stroke-width="0.18" >Δppk25</text>
<circle cx="354.0" cy="307.8" r="17.9" fill="#ffffff" stroke="#222" stroke-width="0.9"/>
<text x="342.7" y="303.8" font-size="7.9" text-anchor="start" fill="#111" stroke="#111" stroke-width="0.18" >mel</text>
<g stroke="#1a1a1a" stroke-width="0.85" fill="none"><circle cx="361.40" cy="298.30" r="2.4"/><path d="M361.40 300.70V305.10M359.05 302.70H363.75"/></g>
<text x="342.7" y="316.90000000000003" font-size="7.9" text-anchor="start" fill="#111" stroke="#111" stroke-width="0.18" >yak</text>
<g stroke="#1a1a1a" stroke-width="0.85" fill="none"><circle cx="360.40" cy="315.70" r="2.3"/><path d="M361.70 313.80L363.60 310.40"/><path d="M360.20 310.60L363.80 310.10L364.30 312.50" stroke-linejoin="miter"/></g>
<path d="M305.0 340.4V416.5" stroke="#1a1a1a" stroke-width="0.9" fill="none"/>
<path d="M303.1 340.4H305.0" stroke="#1a1a1a" stroke-width="0.8"/>
<text x="299.7" y="343.29999999999995" font-size="8.0" text-anchor="end" fill="#111" stroke="#111" stroke-width="0.18" >10</text>
<text x="299.6" y="340.0" font-size="5.4" text-anchor="start" fill="#111" stroke="#111" stroke-width="0.18" >3</text>
<path d="M303.1 365.76666666666665H305.0" stroke="#1a1a1a" stroke-width="0.8"/>
<text x="299.7" y="368.66666666666663" font-size="8.0" text-anchor="end" fill="#111" stroke="#111" stroke-width="0.18" >10</text>
<text x="299.6" y="365.3666666666667" font-size="5.4" text-anchor="start" fill="#111" stroke="#111" stroke-width="0.18" >2</text>
<path d="M303.1 391.1333333333333H305.0" stroke="#1a1a1a" stroke-width="0.8"/>
<text x="299.7" y="394.0333333333333" font-size="8.0" text-anchor="end" fill="#111" stroke="#111" stroke-width="0.18" >10</text>
<text x="299.6" y="390.73333333333335" font-size="5.4" text-anchor="start" fill="#111" stroke="#111" stroke-width="0.18" >1</text>
<path d="M303.1 416.5H305.0" stroke="#1a1a1a" stroke-width="0.8"/>
<text x="299.7" y="419.4" font-size="8.0" text-anchor="end" fill="#111" stroke="#111" stroke-width="0.18" >10</text>
<text x="299.6" y="416.1" font-size="5.4" text-anchor="start" fill="#111" stroke="#111" stroke-width="0.18" >0</text>
<text x="284.0" y="378.45" font-size="7.9" text-anchor="middle" fill="#111" stroke="#111" stroke-width="0.18" transform="rotate(-90 284.0 378.45)" >Average bout length (s)</text>
<path d="M318.1 380.0L340.0 372.7" stroke="#d0d0d0" stroke-width="0.6"/>
<path d="M318.1 383.8L340.0 364.4" stroke="#d0d0d0" stroke-width="0.6"/>
<path d="M318.1 390.4L340.0 384.6" stroke="#d0d0d0" stroke-width="0.6"/>
<path d="M318.1 397.7L340.0 396.7" stroke="#d0d0d0" stroke-width="0.6"/>
<path d="M318.1 408.8L340.0 381.7" stroke="#d0d0d0" stroke-width="0.6"/>
<path d="M318.1 410.8L340.0 372.7" stroke="#d0d0d0" stroke-width="0.6"/>
<path d="M318.1 416.5L340.0 412.7" stroke="#d0d0d0" stroke-width="0.6"/>
<circle cx="318.1" cy="380.0" r="2.9" fill="#9a9a9a"/>
<circle cx="318.1" cy="383.8" r="2.9" fill="#9a9a9a"/>
<circle cx="318.1" cy="390.4" r="2.9" fill="#9a9a9a"/>
<circle cx="318.1" cy="397.7" r="2.9" fill="#9a9a9a"/>
<circle cx="318.1" cy="408.8" r="2.9" fill="#9a9a9a"/>
<circle cx="318.1" cy="410.8" r="2.9" fill="#9a9a9a"/>
<circle cx="318.1" cy="416.5" r="2.9" fill="#9a9a9a"/>
<circle cx="340.0" cy="364.4" r="2.9" fill="#000"/>
<circle cx="340.0" cy="372.7" r="2.9" fill="#000"/>
<circle cx="340.0" cy="381.7" r="2.9" fill="#000"/>
<circle cx="340.0" cy="384.6" r="2.9" fill="#000"/>
<circle cx="340.0" cy="396.7" r="2.9" fill="#000"/>
<circle cx="340.0" cy="412.7" r="2.9" fill="#000"/>
<path d="M318.1 376.9V355.4H340.0V361.0" stroke="#1a1a1a" stroke-width="0.8" fill="none"/>
<text x="329.05" y="356.5" font-size="9.4" text-anchor="middle" fill="#111" stroke="#111" stroke-width="0.18" >**</text>
<path d="M368.1 412.9L390.0 409.2" stroke="#d4d4d4" stroke-width="0.4"/>
<path d="M368.1 413.8L390.0 410.8" stroke="#d4d4d4" stroke-width="0.4"/>
<path d="M368.1 414.6L390.0 412.3" stroke="#d4d4d4" stroke-width="0.4"/>
<path d="M368.1 415.4L390.0 413.8" stroke="#d4d4d4" stroke-width="0.4"/>
<path d="M368.1 416.5L390.0 415.0" stroke="#d4d4d4" stroke-width="0.4"/>
<path d="M368.1 416.5L390.0 416.5" stroke="#d4d4d4" stroke-width="0.4"/>
<circle cx="368.1" cy="412.9" r="2.9" fill="#9a9a9a"/>
<circle cx="368.1" cy="413.8" r="2.9" fill="#9a9a9a"/>
<circle cx="368.1" cy="414.6" r="2.9" fill="#9a9a9a"/>
<circle cx="368.1" cy="415.4" r="2.9" fill="#9a9a9a"/>
<circle cx="368.1" cy="416.5" r="2.9" fill="#9a9a9a"/>
<circle cx="368.1" cy="416.5" r="2.9" fill="#9a9a9a"/>
<circle cx="390.0" cy="409.2" r="2.9" fill="#000"/>
<circle cx="390.0" cy="410.8" r="2.9" fill="#000"/>
<circle cx="390.0" cy="412.3" r="2.9" fill="#000"/>
<circle cx="390.0" cy="413.8" r="2.9" fill="#000"/>
<circle cx="390.0" cy="415.0" r="2.9" fill="#000"/>
<circle cx="390.0" cy="416.5" r="2.9" fill="#000"/>
<path d="M368.1 405V400.8H390.0V405" stroke="#1a1a1a" stroke-width="0.8" fill="none"/>
<text x="379.05" y="398.0" font-size="7.9" text-anchor="middle" fill="#111" stroke="#111" stroke-width="0.18" >NS</text>
<text x="317.2" y="429.6" font-size="7.9" text-anchor="middle" fill="#111" stroke="#111" stroke-width="0.18" >Pre</text>
<text x="339.6" y="429.6" font-size="7.9" text-anchor="middle" fill="#111" stroke="#111" stroke-width="0.18" >Stim</text>
<text x="368.2" y="429.6" font-size="7.9" text-anchor="middle" fill="#111" stroke="#111" stroke-width="0.18" >Pre</text>
<text x="389.8" y="429.6" font-size="7.9" text-anchor="middle" fill="#111" stroke="#111" stroke-width="0.18" >Stim</text>
<g stroke="#1a1a1a" stroke-width="0.85" fill="none"><circle cx="299.50" cy="439.00" r="2.3"/><path d="M300.80 437.10L302.70 433.70"/><path d="M299.30 433.90L302.90 433.40L303.40 435.80" stroke-linejoin="miter"/></g>
<text x="305.5" y="441.0" font-size="7.9" text-anchor="start" fill="#111" stroke="#111" stroke-width="0.18" >ppk23</text>
<text x="328.4" y="441.0" font-size="5.5" text-anchor="start" fill="#111" stroke="#111" stroke-width="0.18" >&gt;</text>
<text x="315.0" y="449.8" font-size="7.9" text-anchor="middle" fill="#111" stroke="#111" stroke-width="0.18" >CsChrimson</text>
<text x="378.5" y="441.0" font-size="5.5" text-anchor="middle" fill="#111" stroke="#111" stroke-width="0.18" >&gt;</text>
<text x="378.8" y="449.8" font-size="7.9" text-anchor="middle" fill="#111" stroke="#111" stroke-width="0.18" >CsChrimson</text>
<path d="M5.8 48.9C10 53 15.5 59 19 66C21 70 22 74 22.3 77" stroke="#c4c4c4" stroke-width="0.9" fill="none"/>
<path d="M6.1 49.1C12 52.5 18.500 56 23.1 59.4C26.5 62 28.6 65 29.8 67.9C30.800 70.500 31.400 72.500 31.600 74.2C30.400 75 29.700 76 29.700 77.500C29.500 79.500 30 81 31.200 82.2C32.600 83.400 34.600 83.700 36.2 83C37.800 82.300 38.700 80.800 38.800 79C38.900 77.300 38 75.700 36.500 75C35.500 74.500 34.500 74.300 33.700 74.300C33.500 72.500 33.200 70.500 32.800 68.6C31.800 65.500 29.500 62.800 26.1 60.7C21 57 13 52.500 6.1 49.1Z" fill="#c3c3c3"/>
<path d="M6.1 49.1C10.500 52.800 15 57 18.2 60C21.500 63.500 23.700 67 24.9 70.4C25.700 72.800 26 74.800 26 76.6C24.800 77.500 23.900 78.700 23.600 80.2C23.200 82 23.500 83.800 24.500 85.2C25.600 86.600 27.200 87.400 29 87.300C30.800 87.200 32.300 86.300 33.100 84.800C33.900 83.300 33.900 81.500 33.100 80C32.400 78.600 31.200 77.600 29.800 77C29.600 76.800 29.300 76.600 29.200 76.5C29.200 74.500 29 72.500 28.600 70.4C27.800 67 26 64 23.1 61.3C19 57.500 12 52.500 6.1 49.1Z" fill="#7d7d7d"/>
<path d="M5.5 48.5C9.5 52 15.8 58.5 19.4 64.3C22 68.5 23.2 73 22.7 78C22.3 82 20.5 84.6 18.2 85.8C16.6 86.7 15 87.1 13.4 87.4" fill="none" stroke="#1a1a1a" stroke-width="0.9" stroke-linecap="round"/>
<path d="M5.5 48.5C11 50.6 19.5 55 24.3 58.4C29.5 62 32.5 67 35.2 70.4C36.6 72.2 37.8 73.2 39.8 73.3C43.5 73.5 47.5 72.8 51 71.3" fill="none" stroke="#1a1a1a" stroke-width="0.9" stroke-linecap="round"/>
<text x="0.4" y="96.9" font-size="7.9" text-anchor="start" fill="#111" stroke="#111" stroke-width="0.18" >Ppk23</text>
<text x="22.7" y="94.30000000000001" font-size="5.0" text-anchor="start" fill="#111" stroke="#111" stroke-width="0.18" >+</text>
<text x="0.4" y="106.0" font-size="7.9" text-anchor="start" fill="#111" stroke="#111" stroke-width="0.18" >Ppk25</text>
<text x="22.7" y="103.4" font-size="5.0" text-anchor="start" fill="#111" stroke="#111" stroke-width="0.18" >+</text>
<text x="33.6" y="96.9" font-size="7.9" text-anchor="start" fill="#111" stroke="#111" stroke-width="0.18" >Ppk23</text>
<text x="55.900000000000006" y="94.30000000000001" font-size="5.0" text-anchor="start" fill="#111" stroke="#111" stroke-width="0.18" >+</text>
<text x="33.6" y="106.0" font-size="7.9" text-anchor="start" fill="#111" stroke="#111" stroke-width="0.18" >Ppk25</text>
<text x="55.900000000000006" y="103.4" font-size="5.0" text-anchor="start" fill="#111" stroke="#111" stroke-width="0.18" >−</text>
<defs>
<linearGradient id="bgm" x1="0" y1="0" x2="1" y2="0.15"><stop offset="0" stop-color="#cfcfcf"/><stop offset="0.35" stop-color="#e4e4e4"/><stop offset="1" stop-color="#f4f4f4"/></linearGradient>
<linearGradient id="bgy" x1="0" y1="0" x2="1" y2="0.1"><stop offset="0" stop-color="#fdfdfd"/><stop offset="0.55" stop-color="#f6f6f6"/><stop offset="1" stop-color="#e2e2e2"/></linearGradient>
<filter id="bl1" x="-20%" y="-20%" width="140%" height="140%"><feGaussianBlur stdDeviation="0.9"/></filter>
<filter id="bl05" x="-20%" y="-20%" width="140%" height="140%"><feGaussianBlur stdDeviation="0.45"/></filter>
<filter id="bl03" x="-20%" y="-20%" width="140%" height="140%"><feGaussianBlur stdDeviation="0.3"/></filter>
<filter id="bl2" x="-20%" y="-20%" width="140%" height="140%"><feGaussianBlur stdDeviation="1.6"/></filter>
<filter id="bl3" x="-30%" y="-30%" width="160%" height="160%"><feGaussianBlur stdDeviation="3"/></filter>
<filter id="mott" x="-10%" y="-10%" width="120%" height="120%"><feGaussianBlur in="SourceGraphic" stdDeviation="0.9" result="b"/><feTurbulence type="fractalNoise" baseFrequency="0.22" numOctaves="2" seed="4" result="n"/><feColorMatrix in="n" type="matrix" values="0 0 0 0 1  0 0 0 0 1  0 0 0 0 1  1.0 0 0 0 0.36" result="m"/><feComposite in="b" in2="m" operator="in"/></filter>
<clipPath id="cm"><rect x="65.2" y="24.9" width="36.5" height="81.6"/></clipPath>
<clipPath id="cy"><rect x="103.6" y="25.6" width="33.3" height="81.2"/></clipPath>
</defs>
<text x="83.4" y="22.6" font-size="7.9" text-anchor="middle" fill="#111" stroke="#111" stroke-width="0.18" >mel</text>
<text x="120.4" y="22.6" font-size="7.9" text-anchor="middle" fill="#111" stroke="#111" stroke-width="0.18" >yak</text>
<rect x="65.2" y="24.9" width="36.5" height="81.6" fill="url(#bgm)"/>
<g clip-path="url(#cm)">
<path d="M78.5 23C79.5 36 81.5 50 83 62C84.5 76 86 92 87.5 108" stroke="#8c8c8c" stroke-width="13" fill="none" filter="url(#bl2)" opacity="0.55"/>
<path d="M78.5 23C79.5 36 81.5 50 83 62C84.5 76 86 92 87.5 108" stroke="#808080" stroke-width="8.5" fill="none" filter="url(#bl1)" opacity="0.7"/>
<path d="M78.5 23C79.5 36 81.5 50 83 62C84.5 76 86 92 87.5 108" stroke="#555" stroke-width="3.5" fill="none" filter="url(#bl1)" opacity="0.35"/>
<g filter="url(#bl03)">
<path d="M76.3 28.3L70.5 22.8L74.6 29.7Z" fill="#2e2e2e" opacity="0.42"/>
<path d="M83.3 29.3L88.6 20.9L81.6 28.0Z" fill="#2e2e2e" opacity="0.42"/>
<path d="M76.8 32.9L70.1 26.2L75.1 34.2Z" fill="#2e2e2e" opacity="0.42"/>
<path d="M83.7 32.8L87.9 27.0L82.2 31.4Z" fill="#2e2e2e" opacity="0.42"/>
<path d="M77.3 37.9L71.5 32.2L75.7 39.2Z" fill="#2e2e2e" opacity="0.42"/>
<path d="M84.4 40.5L88.9 31.4L82.6 39.4Z" fill="#2e2e2e" opacity="0.42"/>
<path d="M77.8 42.2L70.6 34.8L76.2 43.5Z" fill="#2e2e2e" opacity="0.42"/>
<path d="M84.8 43.9L89.9 34.9L83.1 42.7Z" fill="#2e2e2e" opacity="0.42"/>
<path d="M78.2 46.0L71.5 39.3L76.6 47.4Z" fill="#2e2e2e" opacity="0.42"/>
<path d="M85.3 47.4L91.3 37.5L83.6 46.1Z" fill="#2e2e2e" opacity="0.42"/>
<path d="M78.8 50.8L71.9 43.9L77.1 52.1Z" fill="#2e2e2e" opacity="0.42"/>
<path d="M85.8 52.8L89.9 44.9L84.1 51.7Z" fill="#2e2e2e" opacity="0.42"/>
<path d="M79.3 55.4L73.4 49.6L77.6 56.7Z" fill="#2e2e2e" opacity="0.42"/>
<path d="M86.3 57.7L90.3 49.5L84.6 56.6Z" fill="#2e2e2e" opacity="0.42"/>
<path d="M79.8 59.7L72.8 52.7L78.1 61.0Z" fill="#2e2e2e" opacity="0.42"/>
<path d="M86.8 61.6L92.8 51.2L85.1 60.4Z" fill="#2e2e2e" opacity="0.42"/>
<path d="M80.3 64.8L74.2 58.8L78.7 66.1Z" fill="#2e2e2e" opacity="0.42"/>
<path d="M87.3 65.9L93.2 56.5L85.7 64.7Z" fill="#2e2e2e" opacity="0.42"/>
<path d="M80.9 69.9L73.5 62.4L79.2 71.2Z" fill="#2e2e2e" opacity="0.42"/>
<path d="M87.8 70.2L92.1 63.8L86.3 68.8Z" fill="#2e2e2e" opacity="0.42"/>
<path d="M81.3 73.9L73.8 66.0L79.7 75.2Z" fill="#2e2e2e" opacity="0.42"/>
<path d="M88.4 75.5L93.3 66.7L86.6 74.3Z" fill="#2e2e2e" opacity="0.42"/>
<path d="M81.8 77.9L75.4 71.5L80.1 79.2Z" fill="#2e2e2e" opacity="0.42"/>
<path d="M88.8 78.8L93.7 71.0L87.1 77.5Z" fill="#2e2e2e" opacity="0.42"/>
<path d="M82.3 82.5L75.7 75.8L80.6 83.8Z" fill="#2e2e2e" opacity="0.42"/>
<path d="M89.3 84.3L95.4 73.8L87.6 83.1Z" fill="#2e2e2e" opacity="0.42"/>
<path d="M82.8 87.6L75.6 80.1L81.2 88.9Z" fill="#2e2e2e" opacity="0.42"/>
<path d="M89.9 89.3L96.2 78.6L88.2 88.1Z" fill="#2e2e2e" opacity="0.42"/>
<path d="M83.3 91.4L76.0 83.9L81.6 92.7Z" fill="#2e2e2e" opacity="0.42"/>
<path d="M90.3 93.9L96.6 82.6L88.6 92.7Z" fill="#2e2e2e" opacity="0.42"/>
<path d="M83.8 95.9L76.8 88.9L82.1 97.2Z" fill="#2e2e2e" opacity="0.42"/>
<path d="M90.8 98.2L95.3 89.5L89.1 97.0Z" fill="#2e2e2e" opacity="0.42"/>
<path d="M84.3 100.4L78.4 94.7L82.6 101.8Z" fill="#2e2e2e" opacity="0.42"/>
<path d="M91.3 102.7L95.4 94.5L89.6 101.6Z" fill="#2e2e2e" opacity="0.42"/>
<path d="M84.9 105.6L79.5 100.5L83.2 106.9Z" fill="#2e2e2e" opacity="0.42"/>
<path d="M91.9 106.7L97.8 97.3L90.2 105.4Z" fill="#2e2e2e" opacity="0.42"/>
<path d="M80.7 57.0L70.0 50.5L79.3 59.0Z" fill="#2e2e2e" opacity="0.6"/>
<path d="M91.0 64.7L100.0 50.0L89.0 63.3Z" fill="#2e2e2e" opacity="0.6"/>
<path d="M93.0 86.6L101.5 70.0L91.0 85.4Z" fill="#2e2e2e" opacity="0.6"/>
<path d="M82.8 83.2L73.0 75.0L81.2 84.8Z" fill="#2e2e2e" opacity="0.6"/>
<path d="M89.0 40.6L95.0 29.0L87.0 39.4Z" fill="#2e2e2e" opacity="0.6"/>
</g>
<path d="M73.5 25.500C74.500 30 80 31 82 26" stroke="#151515" stroke-width="1.5" fill="none" filter="url(#bl05)"/>
<circle cx="80.4" cy="39.3" r="1.49" fill="#3bf24c" filter="url(#bl03)"/>
<circle cx="81.2" cy="41.0" r="1.17" fill="#3bf24c" filter="url(#bl03)"/>
<circle cx="80.0" cy="44.6" r="1.49" fill="#3bf24c" filter="url(#bl03)"/>
<circle cx="80.6" cy="46.2" r="1.17" fill="#3bf24c" filter="url(#bl03)"/>
<circle cx="84.3" cy="44.6" r="1.3" fill="#3bf24c" filter="url(#bl03)"/>
<circle cx="84.5" cy="46.4" r="1.04" fill="#3bf24c" filter="url(#bl03)"/>
<circle cx="82.3" cy="61.6" r="1.56" fill="#3bf24c" filter="url(#bl03)"/>
<circle cx="82.0" cy="63.6" r="1.43" fill="#3bf24c" filter="url(#bl03)"/>
<circle cx="86.0" cy="61.8" r="1.3" fill="#3bf24c" filter="url(#bl03)"/>
<circle cx="85.8" cy="64.2" r="1.56" fill="#3bf24c" filter="url(#bl03)"/>
<circle cx="82.5" cy="66.0" r="1.56" fill="#3bf24c" filter="url(#bl03)"/>
<circle cx="86.2" cy="66.6" r="1.3" fill="#3bf24c" filter="url(#bl03)"/>
<circle cx="84.2" cy="64.5" r="1.04" fill="#3bf24c" filter="url(#bl03)"/>
<circle cx="83.3" cy="69.9" r="1.17" fill="#3bf24c" filter="url(#bl03)"/>
<circle cx="85.2" cy="83.6" r="1.04" fill="#3bf24c" filter="url(#bl03)"/>
<circle cx="85.4" cy="85.6" r="1.3" fill="#3bf24c" filter="url(#bl03)"/>
<circle cx="81.5" cy="90.0" r="1.56" fill="#3bf24c" filter="url(#bl03)"/>
<circle cx="83.2" cy="90.8" r="1.43" fill="#3bf24c" filter="url(#bl03)"/>
<circle cx="84.9" cy="91.4" r="1.43" fill="#3bf24c" filter="url(#bl03)"/>
<circle cx="82.4" cy="88.6" r="0.91" fill="#3bf24c" filter="url(#bl03)"/>
</g>
<rect x="65.2" y="24.9" width="36.5" height="81.6" fill="none" stroke="#333" stroke-width="0.7"/>
<rect x="103.600" y="25.6" width="33.3" height="81.2" fill="url(#bgy)"/>
<g clip-path="url(#cy)">
<path d="M126 22C123 36 119 48 117.5 62C116 76 117 92 120 109" stroke="#999" stroke-width="15" fill="none" filter="url(#bl2)" opacity="0.5"/>
<path d="M126 22C123 36 119 48 117.5 62C116 76 117 92 120 109" stroke="#858585" stroke-width="10" fill="none" filter="url(#bl1)" opacity="0.7"/>
<path d="M126 22C123 36 119 48 117.5 62C116 76 117 92 120 109" stroke="#666" stroke-width="4" fill="none" filter="url(#bl1)" opacity="0.3"/>
<g filter="url(#bl03)">
<path d="M130.3 31.6L134.9 20.5L128.4 30.6Z" fill="#2e2e2e" opacity="0.4"/>
<path d="M129.4 35.0L132.6 26.8L127.5 34.0Z" fill="#2e2e2e" opacity="0.4"/>
<path d="M128.4 38.7L133.4 27.9L126.6 37.7Z" fill="#2e2e2e" opacity="0.4"/>
<path d="M127.1 44.4L130.4 36.5L125.3 43.4Z" fill="#2e2e2e" opacity="0.4"/>
<path d="M126.3 48.3L130.2 39.2L124.4 47.3Z" fill="#2e2e2e" opacity="0.4"/>
<path d="M125.3 51.5L130.1 41.6L123.5 50.4Z" fill="#2e2e2e" opacity="0.4"/>
<path d="M124.1 57.2L127.9 48.7L122.3 56.2Z" fill="#2e2e2e" opacity="0.4"/>
<path d="M123.0 62.2L127.3 52.5L121.2 61.1Z" fill="#2e2e2e" opacity="0.4"/>
<path d="M114.1 65.7L107.8 58.1L112.4 66.8Z" fill="#2e2e2e" opacity="0.4"/>
<path d="M123.1 66.6L127.3 57.6L121.3 65.5Z" fill="#2e2e2e" opacity="0.4"/>
<path d="M114.4 70.6L109.3 64.8L112.6 71.8Z" fill="#2e2e2e" opacity="0.4"/>
<path d="M123.5 73.1L127.1 63.3L121.6 72.2Z" fill="#2e2e2e" opacity="0.4"/>
<path d="M114.6 75.3L109.0 68.7L112.9 76.4Z" fill="#2e2e2e" opacity="0.4"/>
<path d="M123.7 76.1L126.8 68.9L121.9 75.0Z" fill="#2e2e2e" opacity="0.4"/>
<path d="M114.9 80.0L110.1 74.7L113.2 81.2Z" fill="#2e2e2e" opacity="0.4"/>
<path d="M123.9 81.5L128.3 71.6L122.1 80.5Z" fill="#2e2e2e" opacity="0.4"/>
<path d="M115.1 83.9L109.4 77.1L113.4 85.0Z" fill="#2e2e2e" opacity="0.4"/>
<path d="M124.2 85.5L128.2 76.0L122.3 84.5Z" fill="#2e2e2e" opacity="0.4"/>
<path d="M115.4 88.3L109.5 81.3L113.6 89.4Z" fill="#2e2e2e" opacity="0.4"/>
<path d="M124.4 88.0L129.0 79.4L122.6 86.8Z" fill="#2e2e2e" opacity="0.4"/>
<path d="M115.6 92.1L109.7 85.2L113.8 93.3Z" fill="#2e2e2e" opacity="0.4"/>
<path d="M124.6 92.5L129.6 82.5L122.8 91.4Z" fill="#2e2e2e" opacity="0.4"/>
<path d="M115.8 96.7L110.1 90.0L114.1 97.8Z" fill="#2e2e2e" opacity="0.4"/>
<path d="M124.9 97.4L128.6 89.3L123.1 96.3Z" fill="#2e2e2e" opacity="0.4"/>
<path d="M116.1 101.0L110.7 94.8L114.3 102.1Z" fill="#2e2e2e" opacity="0.4"/>
<path d="M125.1 101.5L129.4 92.6L123.3 100.4Z" fill="#2e2e2e" opacity="0.4"/>
<path d="M116.3 105.4L110.3 98.2L114.6 106.5Z" fill="#2e2e2e" opacity="0.4"/>
<path d="M125.4 106.7L128.5 99.0L123.5 105.7Z" fill="#2e2e2e" opacity="0.4"/>
<path d="M116.6 110.4L111.4 104.4L114.8 111.5Z" fill="#2e2e2e" opacity="0.4"/>
<path d="M125.7 112.3L129.2 103.3L123.8 111.4Z" fill="#2e2e2e" opacity="0.4"/>
<path d="M116.0 58.1L104.0 52.2L115.0 59.9Z" fill="#2e2e2e" opacity="0.8"/>
<path d="M115.0 60.1L105.0 56.0L114.0 61.9Z" fill="#2e2e2e" opacity="0.8"/>
<path d="M121.9 37.6L117.0 30.0L120.1 38.4Z" fill="#2e2e2e" opacity="0.8"/>
</g>
<path d="M113.5 26L117.5 36.5" stroke="#222" stroke-width="0.8" fill="none"/>
<circle cx="119.0" cy="40.6" r="1.17" fill="#3bf24c" filter="url(#bl03)"/>
<circle cx="119.4" cy="42.6" r="1.04" fill="#3bf24c" filter="url(#bl03)"/>
<circle cx="119.6" cy="45.6" r="1.17" fill="#3bf24c" filter="url(#bl03)"/>
<circle cx="120.6" cy="47.0" r="0.65" fill="#3bf24c" filter="url(#bl03)"/>
<circle cx="114.6" cy="61.6" r="1.56" fill="#3bf24c" filter="url(#bl03)"/>
<circle cx="115.2" cy="63.6" r="1.56" fill="#3bf24c" filter="url(#bl03)"/>
<circle cx="115.6" cy="66.0" r="1.69" fill="#3bf24c" filter="url(#bl03)"/>
<circle cx="116.6" cy="67.6" r="1.3" fill="#3bf24c" filter="url(#bl03)"/>
<circle cx="114.8" cy="69.8" r="1.3" fill="#3bf24c" filter="url(#bl03)"/>
<circle cx="119.5" cy="63.0" r="1.04" fill="#3bf24c" filter="url(#bl03)"/>
<circle cx="118.2" cy="65.2" r="0.78" fill="#3bf24c" filter="url(#bl03)"/>
<circle cx="114.8" cy="86.6" r="1.04" fill="#3bf24c" filter="url(#bl03)"/>
<circle cx="115.3" cy="88.6" r="0.91" fill="#3bf24c" filter="url(#bl03)"/>
<circle cx="115.6" cy="92.0" r="1.43" fill="#3bf24c" filter="url(#bl03)"/>
<circle cx="116.2" cy="94.0" r="1.3" fill="#3bf24c" filter="url(#bl03)"/>
<circle cx="114.0" cy="96.4" r="1.56" fill="#3bf24c" filter="url(#bl03)"/>
<circle cx="117.9" cy="95.0" r="1.17" fill="#3bf24c" filter="url(#bl03)"/>
<circle cx="116.0" cy="97.2" r="1.04" fill="#3bf24c" filter="url(#bl03)"/>
</g>
<rect x="103.600" y="25.6" width="33.3" height="81.2" fill="none" stroke="#333" stroke-width="0.7"/>
<path d="M44 65.6L79 63.2M50 86.2L81.500 68.3" stroke="#2a2a2a" stroke-width="0.7" stroke-dasharray="1.4 1.3" fill="none"/>
<path d="M143 23.7L104 25.4M145 29L137.2 100" stroke="#2a2a2a" stroke-width="0.7" stroke-dasharray="1.4 1.3" fill="none"/>
<path d="M183.5 42L200 21.6M184.5 68L200 107" stroke="#2a2a2a" stroke-width="0.7" stroke-dasharray="1.4 1.3" fill="none"/>
<g stroke-linejoin="round">
<path d="M163 63.500C156.5 73 154 93 158 102.500C161.500 110 170.500 110.500 173.200 104C176 96 172 76 168 64Z" fill="#d6d6d6" fill-opacity="0.7" stroke="#8a8a8a" stroke-width="0.55"/>
<path d="M181.5 63.500C188 73 190.500 93 186.5 102.500C183 110 174 110.500 171.300 104C168.500 96 172.5 76 176.5 64Z" fill="#d6d6d6" fill-opacity="0.7" stroke="#8a8a8a" stroke-width="0.55"/>
<path d="M142.5 22.9L156.6 32.3L158.2 36.0L159.8 45.2L163.0 48.6L162.0 52.0L157.6 47.6L156.1 37.4L155.1 34.4L141.9 24.0Z" fill="#c2956a" stroke="#2a1c10" stroke-width="0.6"/>
<path d="M163.5 63.5L159.8 64.6L158.6 67.6L160.2 68.6L161.6 66.6L164.4 66Z" fill="#c2956a" stroke="#2a1c10" stroke-width="0.6"/>
<path d="M181 63.5L184.7 64.6L185.9 67.6L184.3 68.6L182.9 66.6L180.1 66Z" fill="#c2956a" stroke="#2a1c10" stroke-width="0.6"/>
<path d="M164 68.5C160.2 74 159.600 86 162.600 93C165.2 99.5 170 101 172.3 101C174.6 101 179.4 99.5 182 93C185 86 184.400 74 180.6 68.5Z" fill="#c2956a" stroke="#2a1c10" stroke-width="0.6"/>
<path d="M161.9 88.6C165 86.6 179.6 86.6 182.7 88.6C181.6 95 178 100.5 172.3 100.7C166.6 100.5 163 95 161.9 88.6Z" fill="#0a0a0a"/>
<path d="M161.800 46.2C161.300 50 161.200 58 161.600 62C162 65 164.200 67.5 166.5 68.8L172.3 72.6L178.1 68.8C180.400 67.5 182.600 65 183 62C183.400 58 183.300 50 182.800 46.2Z" fill="#c2956a" stroke="#2a1c10" stroke-width="0.6"/>
<path d="M163.2 37C165.5 33 170 31.800 172.8 31.800C175.600 31.800 180.100 33 182.400 37C183.600 40 183 43.5 181 45.400L164.6 45.400C162.6 43.5 162 40 163.200 37Z" fill="#c2956a" stroke="#2a1c10" stroke-width="0.6"/>
<path d="M164.2 35.400C165.5 33.600 168.500 32.600 170.200 33.200C168.500 34 166.500 35.200 165.200 36.200ZM181.400 35.400C180.100 33.600 177.100 32.600 175.400 33.200C177.100 34 179.100 35.200 180.400 36.200Z" fill="#5a3418"/>
<defs><radialGradient id="eyeg" cx="0.45" cy="0.45" r="0.6"><stop offset="0" stop-color="#ff3a18"/><stop offset="0.7" stop-color="#e8260f"/><stop offset="1" stop-color="#b81a08"/></radialGradient></defs>
<ellipse cx="165.1" cy="40.8" rx="2.7" ry="4.2" fill="url(#eyeg)" transform="rotate(10 165.1 40.8)"/>
<ellipse cx="180.4" cy="40.6" rx="2.7" ry="4.2" fill="url(#eyeg)" transform="rotate(-10 180.4 40.6)"/>
<path d="M170.2 34.2L172.8 36.4L175.400 34.200M171.200 37.5L172.800 43.2L174.400 37.500M170.6 38.5L169.6 43.600M175 38.5L176 43.600M171 40.500H174.600M169.4 33.2L171 35.200M176.200 33.200L174.600 35.200" stroke="#2a1c10" stroke-width="0.6" fill="none"/>
<circle cx="172.8" cy="33.400" r="0.7" fill="#2a1c10"/>
<rect x="164.2" y="47.1" width="15.8" height="7.0" fill="#fff" stroke="#2a1c10" stroke-width="0.5"/>
<path d="M165.6 50.5C167 48.4 170 48.6 172.1 50.6C174.2 52.6 177 52.600 178.600 50.6C177.2 48.4 174.2 48.6 172.1 50.6C170 52.6 167 52.600 165.6 50.5Z" fill="none" stroke="#1fa050" stroke-width="0.95"/>
<path d="M167.2 50.6C168.2 49.6 169.6 49.8 170.6 50.6M173.6 50.6C174.6 49.6 176 49.8 177 50.600" fill="none" stroke="#1fa050" stroke-width="0.6"/>
</g>
<text x="200.3" y="18.4" font-size="8.1" text-anchor="start" fill="#111" stroke="#111" stroke-width="0.18" font-style="italic" >D. melanogaster</text>
<text x="200.3" y="67.0" font-size="8.1" text-anchor="start" fill="#111" stroke="#111" stroke-width="0.18" font-style="italic" >D. yakuba</text>
<clipPath id="cb1"><rect x="199.9" y="21.8" width="81" height="35.7"/></clipPath>
<clipPath id="cb2"><rect x="199.9" y="71.0" width="81" height="35.8"/></clipPath>
<rect x="199.9" y="21.8" width="81" height="35.7" fill="#040204"/>
<g clip-path="url(#cb1)">
<g filter="url(#mott)"><ellipse cx="224" cy="39.5" rx="15" ry="14.5" fill="#8e1896"/><ellipse cx="256.5" cy="38.5" rx="15" ry="15" fill="#8e1896"/><ellipse cx="240.5" cy="48" rx="10" ry="7.5" fill="#3a083c"/><path d="M235 20L240.5 40L246 20Z" fill="#040204"/><ellipse cx="222" cy="44" rx="6" ry="4" fill="#5a0d5e" opacity="0.7"/><ellipse cx="260" cy="43" rx="6" ry="4" fill="#5a0d5e" opacity="0.7"/></g>
<g filter="url(#bl05)" fill="none" stroke-linecap="round">
<path d="M201.2 57C201.2 46 203 39.500 206.500 36.8C210 34.2 218 34.600 223 35.6C227 36.5 229 39 230.5 41.500" stroke="#1f8a34" stroke-width="2.6" opacity="0.8"/>
<path d="M203.500 57C204 47 206 41 209.500 38.500C213 36.5 220 37 224 38.5" stroke="#2a9c40" stroke-width="1.0" opacity="0.7"/>
<path d="M281 41.500C278 36 275 32.800 271 31.8C266 30.800 260 32 256 34.5C253 36.500 251 39 249.500 41.500" stroke="#35b04c" stroke-width="2.4" opacity="0.85"/>
<path d="M281 46C277 39 272 35 266 34.500C262 34.200 258 35.5 255 37.500" stroke="#2a9c40" stroke-width="1.1" opacity="0.75"/>
<path d="M214 37C218 40 224 44 229.500 45.500M263 36C266 40 262 44 254 45.500M216 36.2C222 38 226 40 229 42.500" stroke="#2a9c40" stroke-width="0.6" opacity="0.8"/>
</g>
<g filter="url(#bl03)">
<path d="M224.500 44L229 41L231.500 39.2L233.500 41.2L236 41.6L240 41L244 41.4L246.500 40L248 38.200L250.500 39.6L251 42.500L254.500 44.6L251.500 45.4L251.500 48.500L249.600 46L247 44.5L244 43.5L240 43L236.500 44L234.500 45.500L233 44.8L230.600 48.6L230 45.6L226.500 45.6Z" fill="#72fb82"/>
</g></g>
<rect x="199.9" y="71.0" width="81" height="35.8" fill="#040204"/>
<g clip-path="url(#cb2)">
<g filter="url(#mott)"><ellipse cx="222.800" cy="91" rx="15.5" ry="13.5" fill="#a01aaa"/><ellipse cx="252.5" cy="90.5" rx="13.5" ry="13.5" fill="#a01aaa"/><ellipse cx="238.5" cy="101" rx="8" ry="5" fill="#5a0e60"/><path d="M235.500 70L238.500 90L241.500 70Z" fill="#040204"/></g>
<g filter="url(#bl03)">
<path d="M221.800 91.7L229.400 91.1L234.400 93L237.500 92.2L241.500 93L244.500 91.1L249.500 90.5L248.200 94.2L252 97.400L247.600 96.1L244.500 94.4L240 94.500L235.700 94.600L235.600 97.400L232 96.1L226.900 98.6L227.500 94.9Z" fill="#7dfc8a"/>
<path d="M266.400 85.500C270 86.500 274 88 276.500 91C278.500 94 279.500 97 280.200 99.500M268 88.500L271 93.500L268.500 94.200M273.500 90L274.800 96L274 99.500M270.500 87L274.500 91.500" stroke="#35c04a" stroke-width="0.9" fill="none"/>
<circle cx="236" cy="72.6" r="0.7" fill="#2a9c40"/><circle cx="214" cy="106.400" r="0.8" fill="#2a9c40"/>
</g></g>
<g stroke="#1a1a1a" stroke-width="0.85" fill="none"><circle cx="293.60" cy="8.50" r="2.3"/><path d="M294.90 6.60L296.80 3.20"/><path d="M293.40 3.40L297.00 2.90L297.50 5.30" stroke-linejoin="miter"/></g>
<text x="301.6" y="10.8" font-size="8.1" text-anchor="start" fill="#111" stroke="#111" stroke-width="0.18" ><tspan font-style="italic">D. melanogaster</tspan> – ppk23&gt;GCaMP</text>
<g stroke="#1a1a1a" stroke-width="0.85" fill="none"><circle cx="293.60" cy="69.10" r="2.3"/><path d="M294.90 67.20L296.80 63.80"/><path d="M293.40 64.00L297.00 63.50L297.50 65.90" stroke-linejoin="miter"/></g>
<text x="301.6" y="71.4" font-size="8.1" text-anchor="start" fill="#111" stroke="#111" stroke-width="0.18" ><tspan font-style="italic">D. yakuba</tspan> – ppk23&gt;GCaMP</text>
<path d="M301.8 40.4L302.2 41.0L302.5 39.3L302.9 41.3L303.2 39.7L303.6 40.3L303.9 41.3L304.3 39.8L304.6 41.4L305.0 39.0L305.3 33.2L305.7 26.1L306.0 26.6L306.4 27.7L306.7 32.1L307.1 33.5L307.4 33.4L307.8 33.5L308.1 35.6L308.5 37.0L308.8 35.6L309.2 39.2L309.5 36.9L309.9 39.1L310.2 39.9L310.6 40.2L310.9 39.7L311.3 38.1L311.6 37.9L312.0 27.8L312.3 18.9L312.7 23.6L313.0 26.1L313.4 30.3L313.7 32.3L314.1 33.5L314.4 33.2L314.8 35.2L315.1 36.5L315.5 36.3L315.8 37.4L316.2 38.4L316.5 37.1L316.9 37.7L317.2 39.5L317.6 38.6L317.9 36.0L318.3 24.4L318.6 14.5L319.0 20.6L319.3 21.9L319.7 27.9L320.0 29.3L320.4 30.2L320.7 33.9L321.1 34.0L321.4 36.6L321.8 35.4L322.1 35.8L322.5 37.0L322.8 36.5L323.2 38.7L323.5 37.8L323.9 38.4L324.2 34.4L324.6 27.7L324.9 22.2L325.3 24.9L325.6 29.0L326.0 30.4L326.3 34.1L326.7 33.2L327.0 34.5L327.4 34.2L327.7 35.5L328.1 38.0L328.4 38.1L328.8 37.5L329.1 40.0L329.5 38.8L329.8 40.0L330.2 40.4L330.5 40.7L330.9 32.9L331.2 27.5L331.6 24.3L331.9 26.9L332.3 27.7L332.6 32.4L333.0 32.8L333.3 33.8L333.7 33.7L334.0 34.8L334.4 35.4L334.7 38.0L335.1 38.0L335.4 38.6L335.8 37.1L336.1 37.1L336.5 40.1L336.8 40.2L337.2 35.9L337.5 30.1L337.9 27.1L338.2 29.1L338.6 32.2L338.9 34.6L339.3 34.5L339.6 35.7L340.0 35.9L340.3 35.2L340.7 36.7L341.0 37.7L341.4 37.8L341.7 37.9L342.1 40.2L342.4 37.6L342.8 38.1L343.1 37.9L343.5 37.6L343.8 34.0L344.2 29.0L344.5 31.3L344.9 31.3L345.2 34.7L345.6 35.9L345.9 36.4L346.3 37.4L346.6 37.5L347.0 39.0L347.3 39.6L347.7 39.4L348.0 39.9L348.4 39.2L348.7 40.6L349.1 37.8L349.4 38.9L349.8 38.6L350.1 33.9L350.5 30.1L350.8 32.0L351.2 34.3L351.5 33.1L351.9 33.6L352.2 36.3L352.6 36.9L352.9 38.8L353.3 39.2L353.6 38.7L354.0 39.3L354.3 37.6L354.7 40.1L355.0 40.7L355.4 37.7L355.7 39.2L356.1 40.6L356.4 39.3L356.8 37.3L357.1 26.8L357.5 18.2L357.8 22.3L358.2 25.9L358.5 29.8L358.9 31.5L359.2 33.8L359.6 33.1L359.9 35.0L360.3 35.0L360.6 37.2L361.0 38.2L361.3 36.7L361.7 36.5L362.0 37.2L362.4 37.6L362.7 37.8L363.1 33.6L363.4 29.0L363.8 25.7L364.1 28.9L364.5 32.1L364.8 33.8L365.2 34.4L365.5 35.6L365.9 35.1L366.2 34.9L366.6 37.3" fill="none" stroke="#17813f" stroke-width="1.05" stroke-linejoin="round"/>
<path d="M373.3 43.0L373.6 35.2L373.8 43.1L374.1 37.1L374.4 40.9L374.6 37.5L374.9 40.8L375.2 37.6L375.5 42.1L375.7 35.5L376.0 42.7L376.3 36.2L376.5 34.0L376.8 33.6L377.1 35.8L377.3 36.2L377.6 44.9L377.9 35.9L378.2 44.5L378.4 36.8L378.7 40.7L379.0 35.8L379.2 41.2L379.5 35.8L379.8 43.1L380.0 37.0L380.3 41.4L380.6 35.4L380.9 42.4L381.1 37.7L381.4 40.6L381.7 37.7L381.9 42.9L382.2 35.8L382.5 40.6L382.7 36.4L383.0 34.2L383.3 33.4L383.6 35.6L383.8 36.6L384.1 42.6L384.4 38.2L384.6 45.1L384.9 36.3L385.2 41.8L385.4 35.4L385.7 41.5L386.0 35.6L386.3 42.7L386.5 37.6L386.8 41.0L387.1 37.3L387.3 40.9L387.6 36.4L387.9 41.0L388.1 36.9L388.4 40.6L388.7 35.5L389.0 41.3L389.2 35.2L389.5 32.6L389.8 33.3L390.0 35.8L390.3 35.4L390.6 43.7L390.8 36.6L391.1 43.8L391.4 38.1L391.7 41.5L391.9 37.7L392.2 40.2L392.5 35.8L392.7 40.7L393.0 36.8L393.3 42.4L393.5 36.5L393.8 41.2L394.1 36.6L394.4 41.9L394.6 35.8L394.9 40.5L395.2 36.5L395.4 40.9L395.7 33.5L396.0 30.4L396.2 33.0L396.5 36.0L396.8 35.9L397.1 44.9L397.3 36.9L397.6 44.0L397.9 36.7L398.1 41.7L398.4 36.1L398.7 41.6L398.9 36.6L399.2 41.6L399.5 35.4L399.8 42.3L400.0 35.6L400.3 43.0L400.6 37.4L400.8 41.9L401.1 35.4L401.4 42.7L401.6 37.8L401.9 35.6L402.2 32.6L402.5 30.9L402.7 33.9L403.0 36.9L403.3 36.2L403.5 44.6L403.8 35.5L404.1 40.7L404.3 36.1L404.6 42.2L404.9 37.8L405.2 42.8L405.4 35.3L405.7 40.9L406.0 35.3L406.2 41.4L406.5 36.7L406.8 43.2L407.0 35.7L407.3 40.7L407.6 36.9L407.9 41.7L408.1 37.2L408.4 40.8L408.7 37.2L408.9 36.9L409.2 35.0L409.5 34.2L409.7 36.1L410.0 42.3L410.3 37.2L410.6 44.1L410.8 36.7L411.1 40.4L411.4 35.2L411.6 42.6L411.9 35.3L412.2 40.5L412.4 37.4L412.7 40.3L413.0 35.9L413.3 41.0L413.5 37.8L413.8 41.5L414.1 35.5L414.3 42.7L414.6 37.4L414.9 40.6L415.1 35.4L415.4 36.0L415.7 33.3L416.0 31.8L416.2 34.5L416.5 37.2L416.8 36.9L417.0 42.4L417.3 35.4L417.6 42.1L417.8 35.8L418.1 40.5L418.4 35.6L418.7 40.4L418.9 35.6L419.2 41.6L419.5 37.2L419.7 41.9L420.0 35.4L420.3 41.0L420.5 37.8L420.8 41.8L421.1 37.5L421.4 40.5L421.6 37.7L421.9 33.7L422.2 30.0L422.4 30.1L422.7 33.8L423.0 44.5L423.2 37.3L423.5 43.7L423.8 37.7L424.1 41.2L424.3 38.1L424.6 41.0L424.9 38.2L425.1 42.4L425.4 36.5L425.7 40.8L425.9 36.8L426.2 43.0L426.5 37.9L426.8 42.7L427.0 36.9L427.3 41.7L427.6 35.7L427.8 36.5L428.1 35.2L428.4 36.6L428.6 37.9L428.9 43.2L429.2 35.7L429.5 44.3L429.7 36.3L430.0 41.4L430.3 37.2L430.5 40.4L430.8 37.8L431.1 40.4L431.3 36.0L431.6 41.0L431.9 37.7L432.2 40.5L432.4 35.7L432.7 42.8L433.0 36.2L433.2 41.0L433.5 37.5L433.8 41.1L434.0 37.7L434.3 36.5L434.6 36.1L434.9 37.3L435.1 35.3L435.4 45.1L435.7 36.6L435.9 42.9L436.2 35.3L436.5 41.1L436.7 37.1L437.0 40.2L437.3 37.1L437.6 41.6L437.8 36.7L438.1 40.8" fill="none" stroke="#a83aa2" stroke-width="0.75" stroke-linejoin="round"/>
<path d="M301.8 106.6L302.2 107.4L302.5 107.0L302.9 107.3L303.2 106.8L303.6 107.3L303.9 107.4L304.3 106.9L304.6 107.0L305.0 96.6L305.3 82.8L305.7 76.9L306.0 82.0L306.4 86.0L306.7 89.1L307.1 92.8L307.4 95.2L307.8 96.1L308.1 99.1L308.5 99.5L308.8 100.8L309.2 102.7L309.5 102.2L309.9 102.8L310.2 103.7L310.6 104.0L310.9 104.3L311.3 105.6L311.6 97.1L312.0 87.7L312.3 85.5L312.7 89.0L313.0 91.8L313.4 94.6L313.7 96.1L314.1 98.1L314.4 99.5L314.8 101.4L315.1 102.6L315.5 103.3L315.8 103.6L316.2 104.5L316.5 103.8L316.9 104.6L317.2 104.8L317.6 103.3L317.9 90.7L318.3 78.4L318.6 81.8L319.0 84.8L319.3 88.5L319.7 91.9L320.0 94.3L320.4 96.2L320.7 98.8L321.1 99.2L321.4 101.1L321.8 102.4L322.1 102.9L322.5 102.9L322.8 104.3L323.2 103.9L323.5 103.9L323.9 94.5L324.2 80.3L324.6 74.6L324.9 79.6L325.3 84.0L325.6 88.0L326.0 91.0L326.3 94.5L326.7 96.5L327.0 98.2L327.4 98.9L327.7 100.8L328.1 101.4L328.4 103.2L328.8 103.8L329.1 104.0L329.5 103.9L329.8 104.3L330.2 104.6L330.5 100.5L330.9 94.6L331.2 93.7L331.6 95.9L331.9 98.3L332.3 98.5L332.6 100.9L333.0 100.7L333.3 101.6L333.7 103.8L334.0 103.7L334.4 103.6L334.7 103.8L335.1 105.0L335.4 105.6L335.8 105.9L336.1 104.9L336.5 106.2L336.8 93.6L337.2 80.3L337.5 76.9L337.9 81.2L338.2 86.7L338.6 89.0L338.9 92.4L339.3 94.2L339.6 96.5L340.0 98.9L340.3 99.2L340.7 101.0L341.0 102.7L341.4 103.5L341.7 103.4L342.1 104.0L342.4 104.7L342.8 105.3L343.1 105.3L343.5 92.3L343.8 78.4L344.2 79.9L344.5 83.3L344.9 87.0L345.2 91.4L345.6 92.7L345.9 95.3L346.3 96.8L346.6 99.3L347.0 100.5L347.3 101.5L347.7 101.4L348.0 102.8L348.4 103.8L348.7 104.2L349.1 104.9L349.4 105.6L349.8 92.5L350.1 78.3L350.5 79.3L350.8 82.9L351.2 87.9L351.5 91.1L351.9 93.3L352.2 96.1L352.6 97.6L352.9 98.3L353.3 99.7L353.6 100.8L354.0 102.0L354.3 102.3L354.7 102.9L355.0 104.0L355.4 104.2L355.7 101.9L356.1 88.0L356.4 75.7L356.8 80.4L357.1 84.9L357.5 89.1L357.8 92.5L358.2 93.6L358.5 96.9L358.9 98.1L359.2 99.7L359.6 101.0L359.9 101.3L360.3 101.8L360.6 103.6L361.0 103.5L361.3 104.6L361.7 104.6L362.0 105.1L362.4 105.8L362.7 106.0L363.1 96.3L363.4 81.6L363.8 76.9L364.1 82.4L364.5 85.4L364.8 88.7L365.2 92.5L365.5 95.4L365.9 97.3L366.2 99.1L366.6 100.1" fill="none" stroke="#17813f" stroke-width="1.05" stroke-linejoin="round"/>
<path d="M373.3 105.9L373.7 105.6L374.0 105.6L374.4 105.1L374.7 104.6L375.1 108.6L375.4 109.1L375.8 99.7L376.1 86.5L376.5 76.2L376.8 81.0L377.2 85.4L377.5 88.3L377.9 90.0L378.2 93.6L378.6 95.0L378.9 96.4L379.3 97.4L379.6 99.6L380.0 100.5L380.3 101.3L380.7 101.8L381.0 102.3L381.4 105.8L381.7 106.3L382.1 101.0L382.4 89.9L382.8 77.4L383.1 78.8L383.5 82.7L383.8 86.9L384.2 89.6L384.5 93.0L384.9 94.5L385.2 95.4L385.6 97.0L385.9 98.2L386.3 99.0L386.6 101.1L387.0 102.0L387.3 102.6L387.7 102.5L388.0 106.5L388.4 106.4L388.7 95.8L389.1 83.1L389.4 75.2L389.8 80.5L390.1 84.3L390.5 88.5L390.8 90.1L391.2 93.3L391.5 94.2L391.9 96.3L392.2 98.2L392.6 99.7L392.9 100.5L393.3 100.7L393.6 101.3L394.0 102.8L394.3 107.1L394.7 106.8L395.0 95.3L395.4 81.9L395.7 73.9L396.1 78.4L396.4 83.6L396.8 86.8L397.1 89.5L397.5 91.2L397.8 93.9L398.2 95.3L398.5 97.4L398.9 99.1L399.2 100.1L399.6 99.8L399.9 101.0L400.3 102.2L400.6 107.0L401.0 106.7L401.3 103.0L401.7 90.1L402.0 77.0L402.4 76.3L402.7 80.5L403.1 85.5L403.4 89.0L403.8 91.3L404.1 93.4L404.5 94.9L404.8 97.3L405.2 97.7L405.5 98.9L405.9 100.2L406.2 101.5L406.6 100.9L406.9 106.4L407.3 106.0L407.6 103.6L408.0 91.9L408.3 79.3L408.7 80.1L409.0 83.2L409.4 87.3L409.7 90.7L410.1 93.0L410.4 94.7L410.8 96.0L411.1 97.0L411.5 99.5L411.8 100.1L412.2 101.2L412.5 100.7L412.9 102.7L413.2 103.3L413.6 107.5L413.9 107.3L414.3 101.6L414.6 91.8L415.0 82.3L415.3 83.8L415.7 87.2L416.0 90.9L416.4 93.5L416.7 94.3L417.1 96.2L417.4 98.7L417.8 98.9L418.1 100.3L418.5 101.1L418.8 101.9L419.2 102.7L419.5 103.5L419.9 107.2L420.2 107.5L420.6 101.3L420.9 91.0L421.3 78.0L421.6 81.5L422.0 85.1L422.3 87.6L422.7 90.4L423.0 93.3L423.4 95.8L423.7 96.8L424.1 98.3L424.4 98.6L424.8 100.7L425.1 101.2L425.5 101.0L425.8 103.0L426.2 102.9L426.5 106.4L426.9 106.8L427.2 98.1L427.6 87.1L427.9 80.5L428.3 83.2L428.6 87.7L429.0 89.8L429.3 92.0L429.7 94.9L430.0 96.7L430.4 97.0L430.7 98.8L431.1 100.3L431.4 100.4L431.8 101.8L432.1 102.4L432.5 103.4L432.8 102.6L433.2 106.5L433.5 107.2L433.9 99.2L434.2 91.4L434.6 83.7L434.9 86.9L435.3 89.0L435.6 91.5L436.0 94.5L436.3 96.5L436.7 97.7L437.0 98.8L437.4 99.1" fill="none" stroke="#b040aa" stroke-width="1.05" stroke-linejoin="round"/>
<path d="M305.7 45.3v2.6" stroke="#1a1a1a" stroke-width="0.8"/>
<path d="M311.7 45.3v2.6" stroke="#1a1a1a" stroke-width="0.8"/>
<path d="M318.2 45.3v2.6" stroke="#1a1a1a" stroke-width="0.8"/>
<path d="M324.1 45.3v2.6" stroke="#1a1a1a" stroke-width="0.8"/>
<path d="M330.4 45.3v2.6" stroke="#1a1a1a" stroke-width="0.8"/>
<path d="M337.3 45.3v2.6" stroke="#1a1a1a" stroke-width="0.8"/>
<path d="M343.5 45.3v2.6" stroke="#1a1a1a" stroke-width="0.8"/>
<path d="M349.8 45.3v2.6" stroke="#1a1a1a" stroke-width="0.8"/>
<path d="M356.3 45.3v2.6" stroke="#1a1a1a" stroke-width="0.8"/>
<path d="M362.9 45.3v2.6" stroke="#1a1a1a" stroke-width="0.8"/>
<path d="M376.1 45.3v2.6" stroke="#1a1a1a" stroke-width="0.8"/>
<path d="M383.1 45.3v2.6" stroke="#1a1a1a" stroke-width="0.8"/>
<path d="M389.4 45.3v2.6" stroke="#1a1a1a" stroke-width="0.8"/>
<path d="M395.5 45.3v2.6" stroke="#1a1a1a" stroke-width="0.8"/>
<path d="M401.8 45.3v2.6" stroke="#1a1a1a" stroke-width="0.8"/>
<path d="M408.1 45.3v2.6" stroke="#1a1a1a" stroke-width="0.8"/>
<path d="M414.7 45.3v2.6" stroke="#1a1a1a" stroke-width="0.8"/>
<path d="M421 45.3v2.6" stroke="#1a1a1a" stroke-width="0.8"/>
<path d="M427.5 45.3v2.6" stroke="#1a1a1a" stroke-width="0.8"/>
<path d="M433.8 45.3v2.6" stroke="#1a1a1a" stroke-width="0.8"/>
<path d="M304.8 108.2v2.8" stroke="#1a1a1a" stroke-width="0.8"/>
<path d="M311.0 108.2v2.8" stroke="#1a1a1a" stroke-width="0.8"/>
<path d="M317.6 108.2v2.8" stroke="#1a1a1a" stroke-width="0.8"/>
<path d="M324.4 108.2v2.8" stroke="#1a1a1a" stroke-width="0.8"/>
<path d="M330.7 108.2v2.8" stroke="#1a1a1a" stroke-width="0.8"/>
<path d="M337.3 108.2v2.8" stroke="#1a1a1a" stroke-width="0.8"/>
<path d="M343.9 108.2v2.8" stroke="#1a1a1a" stroke-width="0.8"/>
<path d="M349.8 108.2v2.8" stroke="#1a1a1a" stroke-width="0.8"/>
<path d="M356.4 108.2v2.8" stroke="#1a1a1a" stroke-width="0.8"/>
<path d="M362.7 108.2v2.8" stroke="#1a1a1a" stroke-width="0.8"/>
<path d="M376.4 108.2v2.8" stroke="#1a1a1a" stroke-width="0.8"/>
<path d="M382.6 108.2v2.8" stroke="#1a1a1a" stroke-width="0.8"/>
<path d="M389.3 108.2v2.8" stroke="#1a1a1a" stroke-width="0.8"/>
<path d="M395.6 108.2v2.8" stroke="#1a1a1a" stroke-width="0.8"/>
<path d="M402.1 108.2v2.8" stroke="#1a1a1a" stroke-width="0.8"/>
<path d="M408.4 108.2v2.8" stroke="#1a1a1a" stroke-width="0.8"/>
<path d="M415.0 108.2v2.8" stroke="#1a1a1a" stroke-width="0.8"/>
<path d="M420.8 108.2v2.8" stroke="#1a1a1a" stroke-width="0.8"/>
<path d="M427.8 108.2v2.8" stroke="#1a1a1a" stroke-width="0.8"/>
<path d="M433.9 108.2v2.8" stroke="#1a1a1a" stroke-width="0.8"/>
<path d="M298.8 33.4V44.0H302" stroke="#1a1a1a" stroke-width="0.8" fill="none"/>
<text x="296.2" y="45.2" font-size="7.9" text-anchor="start" fill="#111" stroke="#111" stroke-width="0.18" transform="rotate(-90 296.2 45.2)" >0.5 <tspan font-style="italic">ΔF</tspan>/<tspan font-style="italic">F</tspan></text>
<text x="296.8" y="52.3" font-size="7.9" text-anchor="start" fill="#111" stroke="#111" stroke-width="0.18" >10 s</text>
<path d="M298.8 97.10000000000001V107.7H302" stroke="#1a1a1a" stroke-width="0.8" fill="none"/>
<text x="296.2" y="108.9" font-size="7.9" text-anchor="start" fill="#111" stroke="#111" stroke-width="0.18" transform="rotate(-90 296.2 108.9)" >0.5 <tspan font-style="italic">ΔF</tspan>/<tspan font-style="italic">F</tspan></text>
<text x="296.8" y="115.60000000000001" font-size="7.9" text-anchor="start" fill="#111" stroke="#111" stroke-width="0.18" >10 s</text>
<g stroke="#1a1a1a" stroke-width="0.85" fill="none"><circle cx="326.20" cy="115.50" r="2.4"/><path d="M326.20 117.90V122.30M323.85 119.90H328.55"/></g>
<text x="330.9" y="121.5" font-size="7.9" text-anchor="start" fill="#111" stroke="#111" stroke-width="0.18" >mel</text>
<g stroke="#1a1a1a" stroke-width="0.85" fill="none"><circle cx="394.80" cy="116.00" r="2.4"/><path d="M394.80 118.40V122.80M392.45 120.40H397.15"/></g>
<text x="398.9" y="121.6" font-size="7.9" text-anchor="start" fill="#111" stroke="#111" stroke-width="0.18" >yak</text>
<g stroke="#1a1a1a" stroke-width="0.85" fill="none"><circle cx="460.70" cy="26.20" r="2.3"/><path d="M462.00 24.30L463.90 20.90"/><path d="M460.50 21.10L464.10 20.60L464.60 23.00" stroke-linejoin="miter"/></g>
<text x="467.6" y="28.5" font-size="8.1" text-anchor="start" fill="#111" stroke="#111" stroke-width="0.18" ><tspan font-style="italic">D. yakuba</tspan> – ppk23&gt;GCaMP</text>
<path d="M543.4 42.1V132.0M541.0 42.1H543.4M541.0 132.0H543.4" stroke="#1a1a1a" stroke-width="0.85" fill="none"/>
<text x="539.8" y="44.9" font-size="7.9" text-anchor="end" fill="#111" stroke="#111" stroke-width="0.18" >3</text>
<text x="539.8" y="134.8" font-size="7.9" text-anchor="end" fill="#111" stroke="#111" stroke-width="0.18" >0</text>
<text x="540.1999999999999" y="87.55" font-size="7.9" text-anchor="middle" fill="#111" stroke="#111" stroke-width="0.18" transform="rotate(-90 540.1999999999999 87.55)" ><tspan font-style="italic">ΔF</tspan>/<tspan font-style="italic">F</tspan></text>
<text x="555.8014013575652" y="41.7" font-size="7.9" text-anchor="middle" fill="#111" stroke="#111" stroke-width="0.18" >a</text>
<text x="584.2664768994964" y="41.7" font-size="7.9" text-anchor="middle" fill="#111" stroke="#111" stroke-width="0.18" >a</text>
<text x="610.1040070067878" y="41.7" font-size="7.9" text-anchor="middle" fill="#111" stroke="#111" stroke-width="0.18" >a</text>
<text x="637.2553098313991" y="41.7" font-size="7.9" text-anchor="middle" fill="#111" stroke="#111" stroke-width="0.18" >a</text>
<text x="664.1876505364572" y="41.7" font-size="7.9" text-anchor="middle" fill="#111" stroke="#111" stroke-width="0.18" >a</text>
<circle cx="553.0" cy="82.4" r="2.75" fill="#5fae80" fill-opacity="0.72"/>
<circle cx="558.6" cy="85.2" r="2.75" fill="#5fae80" fill-opacity="0.72"/>
<circle cx="553.0" cy="89.6" r="2.75" fill="#5fae80" fill-opacity="0.72"/>
<circle cx="558.6" cy="92.9" r="2.75" fill="#5fae80" fill-opacity="0.72"/>
<circle cx="552.1" cy="96.2" r="2.75" fill="#5fae80" fill-opacity="0.72"/>
<circle cx="556.9" cy="94.6" r="2.75" fill="#5fae80" fill-opacity="0.72"/>
<circle cx="551.4" cy="102.1" r="2.75" fill="#5fae80" fill-opacity="0.72"/>
<circle cx="555.8" cy="103.4" r="2.75" fill="#5fae80" fill-opacity="0.72"/>
<circle cx="560.2" cy="102.1" r="2.75" fill="#5fae80" fill-opacity="0.72"/>
<circle cx="584.3" cy="83.0" r="2.75" fill="#cf98d6" fill-opacity="0.72"/>
<circle cx="578.8" cy="95.5" r="2.75" fill="#cf98d6" fill-opacity="0.72"/>
<circle cx="583.6" cy="94.0" r="2.75" fill="#cf98d6" fill-opacity="0.72"/>
<circle cx="590.2" cy="97.3" r="2.75" fill="#cf98d6" fill-opacity="0.72"/>
<circle cx="587.6" cy="100.5" r="2.75" fill="#cf98d6" fill-opacity="0.72"/>
<circle cx="578.8" cy="108.2" r="2.75" fill="#cf98d6" fill-opacity="0.72"/>
<circle cx="583.6" cy="108.2" r="2.75" fill="#cf98d6" fill-opacity="0.72"/>
<circle cx="588.6" cy="107.8" r="2.75" fill="#cf98d6" fill-opacity="0.72"/>
<circle cx="585.8" cy="110.8" r="2.75" fill="#cf98d6" fill-opacity="0.72"/>
<circle cx="610.1" cy="68.8" r="2.75" fill="#7fd0c0" fill-opacity="0.72"/>
<circle cx="609.0" cy="83.7" r="2.75" fill="#7fd0c0" fill-opacity="0.72"/>
<circle cx="612.1" cy="86.3" r="2.75" fill="#7fd0c0" fill-opacity="0.72"/>
<circle cx="606.2" cy="95.5" r="2.75" fill="#7fd0c0" fill-opacity="0.72"/>
<circle cx="611.6" cy="95.1" r="2.75" fill="#7fd0c0" fill-opacity="0.72"/>
<circle cx="614.3" cy="96.2" r="2.75" fill="#7fd0c0" fill-opacity="0.72"/>
<circle cx="606.2" cy="100.5" r="2.75" fill="#7fd0c0" fill-opacity="0.72"/>
<circle cx="614.3" cy="100.1" r="2.75" fill="#7fd0c0" fill-opacity="0.72"/>
<circle cx="610.1" cy="113.0" r="2.75" fill="#7fd0c0" fill-opacity="0.72"/>
<circle cx="637.3" cy="78.6" r="2.75" fill="#8c7fd0" fill-opacity="0.72"/>
<circle cx="634.0" cy="83.7" r="2.75" fill="#8c7fd0" fill-opacity="0.72"/>
<circle cx="640.1" cy="87.4" r="2.75" fill="#8c7fd0" fill-opacity="0.72"/>
<circle cx="637.3" cy="90.7" r="2.75" fill="#8c7fd0" fill-opacity="0.72"/>
<circle cx="634.6" cy="95.1" r="2.75" fill="#8c7fd0" fill-opacity="0.72"/>
<circle cx="641.2" cy="92.9" r="2.75" fill="#8c7fd0" fill-opacity="0.72"/>
<circle cx="637.3" cy="99.0" r="2.75" fill="#8c7fd0" fill-opacity="0.72"/>
<circle cx="642.3" cy="101.2" r="2.75" fill="#8c7fd0" fill-opacity="0.72"/>
<circle cx="633.5" cy="102.7" r="2.75" fill="#8c7fd0" fill-opacity="0.72"/>
<circle cx="637.3" cy="106.5" r="2.75" fill="#8c7fd0" fill-opacity="0.72"/>
<circle cx="664.2" cy="83.0" r="2.75" fill="#7a7a7a" fill-opacity="0.72"/>
<circle cx="668.6" cy="90.3" r="2.75" fill="#7a7a7a" fill-opacity="0.72"/>
<circle cx="659.8" cy="92.9" r="2.75" fill="#7a7a7a" fill-opacity="0.72"/>
<circle cx="664.2" cy="94.0" r="2.75" fill="#7a7a7a" fill-opacity="0.72"/>
<circle cx="666.4" cy="95.1" r="2.75" fill="#7a7a7a" fill-opacity="0.72"/>
<circle cx="659.8" cy="107.1" r="2.75" fill="#7a7a7a" fill-opacity="0.72"/>
<circle cx="668.6" cy="107.1" r="2.75" fill="#7a7a7a" fill-opacity="0.72"/>
<circle cx="665.3" cy="111.5" r="2.75" fill="#7a7a7a" fill-opacity="0.72"/>
<circle cx="663.1" cy="114.3" r="2.75" fill="#7a7a7a" fill-opacity="0.72"/>
<path d="M555.8 91.3V97.5M554.0 94.4H557.6" stroke="#111" stroke-width="0.7" fill="none"/>
<path d="M584.3 96.8V103.4M582.5 100.1H586.0" stroke="#111" stroke-width="0.7" fill="none"/>
<path d="M610.1 89.8V97.9M608.4 94.0H611.9" stroke="#111" stroke-width="0.7" fill="none"/>
<path d="M637.3 89.2V97.5M635.5 93.3H639.0" stroke="#111" stroke-width="0.7" fill="none"/>
<path d="M664.2 95.5V103.4M662.4 99.4H665.9" stroke="#111" stroke-width="0.7" fill="none"/>
<g stroke="#1a1a1a" stroke-width="0.85" fill="none"><circle cx="548.40" cy="137.60" r="2.4"/><path d="M548.40 140.00V144.40M546.05 142.00H550.75"/></g>
<text x="554.0014013575652" y="142.6" font-size="7.9" text-anchor="start" fill="#111" stroke="#111" stroke-width="0.18" >mel</text>
<text x="584.2664768994964" y="142.6" font-size="7.9" text-anchor="middle" fill="#111" stroke="#111" stroke-width="0.18" >yak</text>
<text x="610.1040070067878" y="142.6" font-size="7.9" text-anchor="middle" fill="#111" stroke="#111" stroke-width="0.18" >sim</text>
<text x="637.2553098313991" y="142.6" font-size="7.9" text-anchor="middle" fill="#111" stroke="#111" stroke-width="0.18" >ere</text>
<text x="654.5876505364572" y="142.6" font-size="7.9" text-anchor="start" fill="#111" stroke="#111" stroke-width="0.18" >yak</text>
<g stroke="#1a1a1a" stroke-width="0.85" fill="none"><circle cx="672.19" cy="140.60" r="2.3"/><path d="M673.49 138.70L675.39 135.30"/><path d="M671.99 135.50L675.59 135.00L676.09 137.40" stroke-linejoin="miter"/></g>
<path d="M478.1 59.8V95.2H472.0" stroke="#1a1a1a" stroke-width="0.85" fill="none"/>
<text x="475.6" y="90.7" font-size="7.9" text-anchor="start" fill="#111" stroke="#111" stroke-width="0.18" transform="rotate(-90 475.6 90.7)" >1 <tspan font-style="italic">ΔF</tspan>/<tspan font-style="italic">F</tspan></text>
<text x="480.1" y="106.2" font-size="7.9" text-anchor="end" fill="#111" stroke="#111" stroke-width="0.18" >2 s</text>
<path d="M480.2 96.3L480.6 96.4L481.0 96.8L481.4 96.8L481.8 97.2L482.2 97.8L482.6 98.1L483.0 99.1L483.4 100.0L483.6 100.4L484.1 93.3L484.5 86.2L485.0 79.1L485.5 71.9L485.9 64.8L486.4 57.7L486.8 59.3L487.2 60.1L487.6 61.6L488.0 62.7L488.4 64.4L488.8 65.5L489.2 66.2L489.6 68.0L490.0 69.0L490.4 69.8L490.8 70.8L491.2 71.5L491.6 72.3L492.0 73.6L492.4 74.1L492.8 75.1L493.2 75.9L493.6 76.6L494.0 77.7L494.4 78.4L494.8 79.4L495.2 79.9L495.6 80.7L496.0 81.2L496.4 82.0L496.8 82.4L497.2 82.9L497.6 84.0L498.0 84.6L498.4 85.0L498.8 85.4L499.2 85.7L499.6 86.1L500.0 86.6L500.4 86.9L500.8 87.9" fill="none" stroke="#17813f" stroke-width="2.6" stroke-opacity="0.25" stroke-linejoin="round"/>
<path d="M480.2 96.3L480.6 96.4L481.0 96.8L481.4 96.8L481.8 97.2L482.2 97.8L482.6 98.1L483.0 99.1L483.4 100.0L483.6 100.4L484.1 93.3L484.5 86.2L485.0 79.1L485.5 71.9L485.9 64.8L486.4 57.7L486.8 59.3L487.2 60.1L487.6 61.6L488.0 62.7L488.4 64.4L488.8 65.5L489.2 66.2L489.6 68.0L490.0 69.0L490.4 69.8L490.8 70.8L491.2 71.5L491.6 72.3L492.0 73.6L492.4 74.1L492.8 75.1L493.2 75.9L493.6 76.6L494.0 77.7L494.4 78.4L494.8 79.4L495.2 79.9L495.6 80.7L496.0 81.2L496.4 82.0L496.8 82.4L497.2 82.9L497.6 84.0L498.0 84.6L498.4 85.0L498.8 85.4L499.2 85.7L499.6 86.1L500.0 86.6L500.4 86.9L500.8 87.9" fill="none" stroke="#17813f" stroke-width="1.05" stroke-linejoin="round"/>
<path d="M505.8 95.7L506.2 96.2L506.6 96.2L507.0 97.1L507.4 97.8L507.8 98.2L508.2 99.5L508.6 101.4L509.0 102.8L509.4 105.0L509.8 106.6L509.8 106.7L510.3 98.3L510.7 89.9L511.2 81.4L511.6 73.0L512.1 64.6L512.5 65.4L512.9 66.8L513.3 68.0L513.7 68.6L514.1 69.4L514.5 70.5L514.9 71.9L515.3 72.6L515.7 73.0L516.1 73.9L516.5 74.6L516.9 75.4L517.3 76.6L517.7 76.9L518.1 77.9L518.5 78.5L518.9 79.0L519.3 80.0L519.7 80.2L520.1 81.1L520.5 81.4L520.9 82.1L521.3 82.5L521.7 83.1L522.1 84.1L522.5 84.5L522.9 84.6L523.3 85.5L523.7 85.5L524.1 86.0L524.5 86.8L524.9 87.1L525.3 87.1L525.7 88.1L526.1 87.9L526.5 88.3L526.9 89.0" fill="none" stroke="#b040aa" stroke-width="2.6" stroke-opacity="0.25" stroke-linejoin="round"/>
<path d="M505.8 95.7L506.2 96.2L506.6 96.2L507.0 97.1L507.4 97.8L507.8 98.2L508.2 99.5L508.6 101.4L509.0 102.8L509.4 105.0L509.8 106.6L509.8 106.7L510.3 98.3L510.7 89.9L511.2 81.4L511.6 73.0L512.1 64.6L512.5 65.4L512.9 66.8L513.3 68.0L513.7 68.6L514.1 69.4L514.5 70.5L514.9 71.9L515.3 72.6L515.7 73.0L516.1 73.9L516.5 74.6L516.9 75.4L517.3 76.6L517.7 76.9L518.1 77.9L518.5 78.5L518.9 79.0L519.3 80.0L519.7 80.2L520.1 81.1L520.5 81.4L520.9 82.1L521.3 82.5L521.7 83.1L522.1 84.1L522.5 84.5L522.9 84.6L523.3 85.5L523.7 85.5L524.1 86.0L524.5 86.8L524.9 87.1L525.3 87.1L525.7 88.1L526.1 87.9L526.5 88.3L526.9 89.0" fill="none" stroke="#b040aa" stroke-width="1.05" stroke-linejoin="round"/>
<path d="M484.0 112.5v4.6" stroke="#111" stroke-width="1.3"/>
<path d="M509.8 112.5v4.6" stroke="#111" stroke-width="1.3"/>
<g stroke="#1a1a1a" stroke-width="0.85" fill="none"><circle cx="483.00" cy="123.30" r="2.4"/><path d="M483.00 125.70V130.10M480.65 127.70H485.35"/></g>
<text x="487.6" y="128.3" font-size="7.9" text-anchor="start" fill="#111" stroke="#111" stroke-width="0.18" >mel</text>
<g stroke="#1a1a1a" stroke-width="0.85" fill="none"><circle cx="509.70" cy="123.30" r="2.4"/><path d="M509.70 125.70V130.10M507.35 127.70H512.05"/></g>
<text x="513.9" y="128.3" font-size="7.9" text-anchor="start" fill="#111" stroke="#111" stroke-width="0.18" >yak</text>
<g stroke="#1a1a1a" stroke-width="0.85" fill="none"><circle cx="460.70" cy="167.50" r="2.3"/><path d="M462.00 165.60L463.90 162.20"/><path d="M460.50 162.40L464.10 161.90L464.60 164.30" stroke-linejoin="miter"/></g>
<text x="467.6" y="169.8" font-size="8.1" text-anchor="start" fill="#111" stroke="#111" stroke-width="0.18" ><tspan font-style="italic">D. melanogaster</tspan> – ppk23&gt;GCaMP</text>
<path d="M543.4 187.4V276.5M541.0 187.4H543.4M541.0 276.5H543.4" stroke="#1a1a1a" stroke-width="0.85" fill="none"/>
<text x="539.8" y="190.20000000000002" font-size="7.9" text-anchor="end" fill="#111" stroke="#111" stroke-width="0.18" >3</text>
<text x="539.8" y="279.3" font-size="7.9" text-anchor="end" fill="#111" stroke="#111" stroke-width="0.18" >0</text>
<text x="540.1999999999999" y="232.45" font-size="7.9" text-anchor="middle" fill="#111" stroke="#111" stroke-width="0.18" transform="rotate(-90 540.1999999999999 232.45)" ><tspan font-style="italic">ΔF</tspan>/<tspan font-style="italic">F</tspan></text>
<text x="555.3634771184585" y="182.7" font-size="7.9" text-anchor="middle" fill="#111" stroke="#111" stroke-width="0.18" >a</text>
<text x="583.8285526603897" y="182.7" font-size="7.9" text-anchor="middle" fill="#111" stroke="#111" stroke-width="0.18" >bc</text>
<text x="610.1040070067878" y="182.7" font-size="7.9" text-anchor="middle" fill="#111" stroke="#111" stroke-width="0.18" >bc</text>
<text x="636.8173855922926" y="182.7" font-size="7.9" text-anchor="middle" fill="#111" stroke="#111" stroke-width="0.18" >ab</text>
<text x="663.7497262973505" y="182.7" font-size="7.9" text-anchor="middle" fill="#111" stroke="#111" stroke-width="0.18" >c</text>
<circle cx="555.4" cy="189.1" r="2.75" fill="#5fae80" fill-opacity="0.72"/>
<circle cx="555.4" cy="211.9" r="2.75" fill="#5fae80" fill-opacity="0.72"/>
<circle cx="555.4" cy="223.5" r="2.75" fill="#5fae80" fill-opacity="0.72"/>
<circle cx="555.4" cy="235.5" r="2.75" fill="#5fae80" fill-opacity="0.72"/>
<circle cx="555.4" cy="243.2" r="2.75" fill="#5fae80" fill-opacity="0.72"/>
<circle cx="552.5" cy="249.3" r="2.75" fill="#5fae80" fill-opacity="0.72"/>
<circle cx="558.0" cy="247.6" r="2.75" fill="#5fae80" fill-opacity="0.72"/>
<circle cx="583.8" cy="242.8" r="2.75" fill="#cf98d6" fill-opacity="0.72"/>
<circle cx="579.9" cy="254.6" r="2.75" fill="#cf98d6" fill-opacity="0.72"/>
<circle cx="583.8" cy="253.1" r="2.75" fill="#cf98d6" fill-opacity="0.72"/>
<circle cx="588.2" cy="255.2" r="2.75" fill="#cf98d6" fill-opacity="0.72"/>
<circle cx="581.0" cy="262.5" r="2.75" fill="#cf98d6" fill-opacity="0.72"/>
<circle cx="586.9" cy="262.9" r="2.75" fill="#cf98d6" fill-opacity="0.72"/>
<circle cx="610.1" cy="236.6" r="2.75" fill="#7fd0c0" fill-opacity="0.72"/>
<circle cx="610.1" cy="248.7" r="2.75" fill="#7fd0c0" fill-opacity="0.72"/>
<circle cx="610.1" cy="256.3" r="2.75" fill="#7fd0c0" fill-opacity="0.72"/>
<circle cx="605.5" cy="260.7" r="2.75" fill="#7fd0c0" fill-opacity="0.72"/>
<circle cx="610.1" cy="261.2" r="2.75" fill="#7fd0c0" fill-opacity="0.72"/>
<circle cx="614.5" cy="260.3" r="2.75" fill="#7fd0c0" fill-opacity="0.72"/>
<circle cx="634.0" cy="223.1" r="2.75" fill="#8c7fd0" fill-opacity="0.72"/>
<circle cx="640.1" cy="223.1" r="2.75" fill="#8c7fd0" fill-opacity="0.72"/>
<circle cx="637.3" cy="227.9" r="2.75" fill="#8c7fd0" fill-opacity="0.72"/>
<circle cx="637.3" cy="242.1" r="2.75" fill="#8c7fd0" fill-opacity="0.72"/>
<circle cx="640.1" cy="245.0" r="2.75" fill="#8c7fd0" fill-opacity="0.72"/>
<circle cx="634.0" cy="247.1" r="2.75" fill="#8c7fd0" fill-opacity="0.72"/>
<circle cx="637.3" cy="249.8" r="2.75" fill="#8c7fd0" fill-opacity="0.72"/>
<circle cx="662.4" cy="248.7" r="2.75" fill="#7a7a7a" fill-opacity="0.72"/>
<circle cx="665.9" cy="250.2" r="2.75" fill="#7a7a7a" fill-opacity="0.72"/>
<circle cx="659.4" cy="257.0" r="2.75" fill="#7a7a7a" fill-opacity="0.72"/>
<circle cx="663.7" cy="255.2" r="2.75" fill="#7a7a7a" fill-opacity="0.72"/>
<circle cx="668.1" cy="258.5" r="2.75" fill="#7a7a7a" fill-opacity="0.72"/>
<circle cx="663.7" cy="261.8" r="2.75" fill="#7a7a7a" fill-opacity="0.72"/>
<circle cx="663.7" cy="265.5" r="2.75" fill="#7a7a7a" fill-opacity="0.72"/>
<path d="M555.4 220.2V236.6M553.6 228.5H557.1" stroke="#111" stroke-width="0.7" fill="none"/>
<path d="M583.8 252.0V257.2M582.1 254.6H585.6" stroke="#111" stroke-width="0.7" fill="none"/>
<path d="M610.1 250.9V257.4M608.4 254.2H611.9" stroke="#111" stroke-width="0.7" fill="none"/>
<path d="M636.8 232.3V241.5M635.1 236.6H638.6" stroke="#111" stroke-width="0.7" fill="none"/>
<path d="M663.7 253.7V259.0M662.0 256.3H665.5" stroke="#111" stroke-width="0.7" fill="none"/>
<g stroke="#1a1a1a" stroke-width="0.85" fill="none"><circle cx="547.96" cy="282.10" r="2.4"/><path d="M547.96 284.50V288.90M545.61 286.50H550.31"/></g>
<text x="553.5634771184585" y="287.1" font-size="7.9" text-anchor="start" fill="#111" stroke="#111" stroke-width="0.18" >mel</text>
<text x="583.8285526603897" y="287.1" font-size="7.9" text-anchor="middle" fill="#111" stroke="#111" stroke-width="0.18" >yak</text>
<text x="610.1040070067878" y="287.1" font-size="7.9" text-anchor="middle" fill="#111" stroke="#111" stroke-width="0.18" >sim</text>
<text x="636.8173855922926" y="287.1" font-size="7.9" text-anchor="middle" fill="#111" stroke="#111" stroke-width="0.18" >ere</text>
<text x="654.1497262973505" y="287.1" font-size="7.9" text-anchor="start" fill="#111" stroke="#111" stroke-width="0.18" >yak</text>
<g stroke="#1a1a1a" stroke-width="0.85" fill="none"><circle cx="671.75" cy="285.10" r="2.3"/><path d="M673.05 283.20L674.95 279.80"/><path d="M671.55 280.00L675.15 279.50L675.65 281.90" stroke-linejoin="miter"/></g>
<path d="M478.1 204.6V240.4H472.0" stroke="#1a1a1a" stroke-width="0.85" fill="none"/>
<text x="475.6" y="235.9" font-size="7.9" text-anchor="start" fill="#111" stroke="#111" stroke-width="0.18" transform="rotate(-90 475.6 235.9)" >1 <tspan font-style="italic">ΔF</tspan>/<tspan font-style="italic">F</tspan></text>
<text x="480.1" y="250.0" font-size="7.9" text-anchor="end" fill="#111" stroke="#111" stroke-width="0.18" >2 s</text>
<path d="M480.2 239.8L480.6 239.8L481.0 239.8L481.4 240.0L481.8 240.9L482.2 241.0L482.6 241.9L483.0 242.3L483.4 243.1L483.6 243.6L484.0 235.9L484.4 228.1L484.8 220.4L485.3 212.6L485.7 204.9L486.1 197.1L486.5 189.4L486.9 192.1L487.3 193.8L487.7 195.9L488.1 198.2L488.5 199.5L488.9 201.4L489.3 203.9L489.7 205.6L490.1 206.7L490.5 208.3L490.9 210.5L491.3 212.2L491.7 213.0L492.1 215.2L492.5 216.5L492.9 217.6L493.3 218.7L493.7 219.6L494.1 220.8L494.5 222.9L494.9 223.3L495.3 224.9L495.7 225.5L496.1 227.1L496.5 227.9L496.9 228.5L497.3 229.3L497.7 230.8L498.1 231.0L498.5 232.0L498.9 233.2L499.3 234.3L499.7 234.8L500.1 235.2L500.5 236.5" fill="none" stroke="#17813f" stroke-width="2.6" stroke-opacity="0.25" stroke-linejoin="round"/>
<path d="M480.2 239.8L480.6 239.8L481.0 239.8L481.4 240.0L481.8 240.9L482.2 241.0L482.6 241.9L483.0 242.3L483.4 243.1L483.6 243.6L484.0 235.9L484.4 228.1L484.8 220.4L485.3 212.6L485.7 204.9L486.1 197.1L486.5 189.4L486.9 192.1L487.3 193.8L487.7 195.9L488.1 198.2L488.5 199.5L488.9 201.4L489.3 203.9L489.7 205.6L490.1 206.7L490.5 208.3L490.9 210.5L491.3 212.2L491.7 213.0L492.1 215.2L492.5 216.5L492.9 217.6L493.3 218.7L493.7 219.6L494.1 220.8L494.5 222.9L494.9 223.3L495.3 224.9L495.7 225.5L496.1 227.1L496.5 227.9L496.9 228.5L497.3 229.3L497.7 230.8L498.1 231.0L498.5 232.0L498.9 233.2L499.3 234.3L499.7 234.8L500.1 235.2L500.5 236.5" fill="none" stroke="#17813f" stroke-width="1.05" stroke-linejoin="round"/>
<path d="M505.8 239.7L506.2 239.6L506.6 240.0L507.0 240.5L507.4 240.6L507.8 241.4L508.2 242.3L508.6 243.4L509.0 243.9L509.4 245.3L509.8 247.1L509.8 246.7L510.2 242.0L510.7 237.3L511.1 232.6L511.6 227.9L512.0 223.2L512.5 218.5L512.9 220.0L513.3 220.6L513.7 221.6L514.1 222.4L514.5 222.9L514.9 223.6L515.3 224.5L515.7 226.2L516.1 226.7L516.5 227.7L516.9 227.5L517.3 228.9L517.7 229.4L518.1 230.3L518.5 230.5L518.9 231.8L519.3 231.5L519.7 232.6L520.1 233.3L520.5 234.0L520.9 234.4L521.3 234.9L521.7 235.4L522.1 236.0L522.5 235.9L522.9 236.7L523.3 237.4L523.7 237.8L524.1 237.7L524.5 238.5L524.9 238.9L525.3 239.0L525.7 239.4L526.1 239.5L526.5 240.1L526.9 240.4" fill="none" stroke="#b040aa" stroke-width="2.6" stroke-opacity="0.25" stroke-linejoin="round"/>
<path d="M505.8 239.7L506.2 239.6L506.6 240.0L507.0 240.5L507.4 240.6L507.8 241.4L508.2 242.3L508.6 243.4L509.0 243.9L509.4 245.3L509.8 247.1L509.8 246.7L510.2 242.0L510.7 237.3L511.1 232.6L511.6 227.9L512.0 223.2L512.5 218.5L512.9 220.0L513.3 220.6L513.7 221.6L514.1 222.4L514.5 222.9L514.9 223.6L515.3 224.5L515.7 226.2L516.1 226.7L516.5 227.7L516.9 227.5L517.3 228.9L517.7 229.4L518.1 230.3L518.5 230.5L518.9 231.8L519.3 231.5L519.7 232.6L520.1 233.3L520.5 234.0L520.9 234.4L521.3 234.9L521.7 235.4L522.1 236.0L522.5 235.9L522.9 236.7L523.3 237.4L523.7 237.8L524.1 237.7L524.5 238.5L524.9 238.9L525.3 239.0L525.7 239.4L526.1 239.5L526.5 240.1L526.9 240.4" fill="none" stroke="#b040aa" stroke-width="1.05" stroke-linejoin="round"/>
<path d="M484.1 257.6v4.6" stroke="#111" stroke-width="1.3"/>
<path d="M510.4 257.6v4.6" stroke="#111" stroke-width="1.3"/>
<g stroke="#1a1a1a" stroke-width="0.85" fill="none"><circle cx="482.90" cy="266.70" r="2.4"/><path d="M482.90 269.10V273.50M480.55 271.10H485.25"/></g>
<text x="487.5" y="271.7" font-size="7.9" text-anchor="start" fill="#111" stroke="#111" stroke-width="0.18" >mel</text>
<g stroke="#1a1a1a" stroke-width="0.85" fill="none"><circle cx="509.70" cy="266.70" r="2.4"/><path d="M509.70 269.10V273.50M507.35 271.10H512.05"/></g>
<text x="513.9" y="271.7" font-size="7.9" text-anchor="start" fill="#111" stroke="#111" stroke-width="0.18" >yak</text>
<g stroke="#1a1a1a" stroke-width="0.85" fill="none"><circle cx="460.70" cy="316.50" r="2.3"/><path d="M462.00 314.60L463.90 311.20"/><path d="M460.50 311.40L464.10 310.90L464.60 313.30" stroke-linejoin="miter"/></g>
<text x="467.6" y="318.8" font-size="8.1" text-anchor="start" fill="#111" stroke="#111" stroke-width="0.18" ><tspan font-style="italic">D. yakuba</tspan> – Δppk23; ppk23&gt;GCaMP</text>
<path d="M551.6 331.3V420.6M549.2 331.3H551.6M549.2 420.6H551.6" stroke="#1a1a1a" stroke-width="0.85" fill="none"/>
<text x="546.6" y="334.1" font-size="7.9" text-anchor="end" fill="#111" stroke="#111" stroke-width="0.18" >3</text>
<text x="546.6" y="423.40000000000003" font-size="7.9" text-anchor="end" fill="#111" stroke="#111" stroke-width="0.18" >0</text>
<text x="548.4" y="376.45000000000005" font-size="7.9" text-anchor="middle" fill="#111" stroke="#111" stroke-width="0.18" transform="rotate(-90 548.4 376.45000000000005)" ><tspan font-style="italic">ΔF</tspan>/<tspan font-style="italic">F</tspan></text>
<text x="563.4650755419312" y="331.0" font-size="7.9" text-anchor="middle" fill="#111" stroke="#111" stroke-width="0.18" >a</text>
<text x="591.9301510838625" y="331.0" font-size="7.9" text-anchor="middle" fill="#111" stroke="#111" stroke-width="0.18" >a</text>
<text x="617.7676811911539" y="331.0" font-size="7.9" text-anchor="middle" fill="#111" stroke="#111" stroke-width="0.18" >a</text>
<text x="645.1379461353185" y="331.0" font-size="7.9" text-anchor="middle" fill="#111" stroke="#111" stroke-width="0.18" >a</text>
<text x="671.8513247208233" y="331.0" font-size="7.9" text-anchor="middle" fill="#111" stroke="#111" stroke-width="0.18" >a</text>
<circle cx="560.2" cy="414.3" r="2.6" fill="none" stroke="#7cc095" stroke-width="0.7"/>
<circle cx="563.5" cy="412.8" r="2.6" fill="none" stroke="#7cc095" stroke-width="0.7"/>
<circle cx="567.4" cy="414.3" r="2.6" fill="none" stroke="#7cc095" stroke-width="0.7"/>
<circle cx="563.5" cy="415.2" r="2.6" fill="none" stroke="#7cc095" stroke-width="0.7"/>
<circle cx="589.7" cy="409.5" r="2.6" fill="none" stroke="#cf8fd6" stroke-width="0.7"/>
<circle cx="594.6" cy="407.7" r="2.6" fill="none" stroke="#cf8fd6" stroke-width="0.7"/>
<circle cx="589.7" cy="414.3" r="2.6" fill="none" stroke="#cf8fd6" stroke-width="0.7"/>
<circle cx="594.6" cy="414.3" r="2.6" fill="none" stroke="#cf8fd6" stroke-width="0.7"/>
<circle cx="617.8" cy="405.8" r="2.6" fill="none" stroke="#7fd0c0" stroke-width="0.7"/>
<circle cx="614.9" cy="412.8" r="2.6" fill="none" stroke="#7fd0c0" stroke-width="0.7"/>
<circle cx="620.4" cy="413.4" r="2.6" fill="none" stroke="#7fd0c0" stroke-width="0.7"/>
<circle cx="616.0" cy="416.0" r="2.6" fill="none" stroke="#7fd0c0" stroke-width="0.7"/>
<circle cx="645.1" cy="406.2" r="2.6" fill="none" stroke="#8c7fd6" stroke-width="0.7"/>
<circle cx="642.3" cy="412.8" r="2.6" fill="none" stroke="#8c7fd6" stroke-width="0.7"/>
<circle cx="647.8" cy="412.8" r="2.6" fill="none" stroke="#8c7fd6" stroke-width="0.7"/>
<circle cx="645.1" cy="415.0" r="2.6" fill="none" stroke="#8c7fd6" stroke-width="0.7"/>
<circle cx="669.0" cy="413.9" r="2.6" fill="none" stroke="#555555" stroke-width="0.7"/>
<circle cx="673.4" cy="410.6" r="2.6" fill="none" stroke="#555555" stroke-width="0.7"/>
<circle cx="676.2" cy="413.9" r="2.6" fill="none" stroke="#555555" stroke-width="0.7"/>
<circle cx="671.9" cy="414.3" r="2.6" fill="none" stroke="#555555" stroke-width="0.7"/>
<path d="M563.5 413.0V414.7M561.7 413.9H565.2" stroke="#111" stroke-width="0.7" fill="none"/>
<path d="M591.9 410.1V414.1M590.2 412.1H593.7" stroke="#111" stroke-width="0.7" fill="none"/>
<path d="M617.8 409.5V413.9M616.0 411.7H619.5" stroke="#111" stroke-width="0.7" fill="none"/>
<path d="M645.6 409.9V414.3M643.8 412.1H647.3" stroke="#111" stroke-width="0.7" fill="none"/>
<path d="M671.9 412.1V414.3M670.1 413.2H673.6" stroke="#111" stroke-width="0.7" fill="none"/>
<g stroke="#1a1a1a" stroke-width="0.85" fill="none"><circle cx="554.47" cy="428.40" r="2.4"/><path d="M554.47 430.80V435.20M552.12 432.80H556.82"/></g>
<text x="560.0650755419313" y="433.4" font-size="7.9" text-anchor="start" fill="#111" stroke="#111" stroke-width="0.18" >mel</text>
<text x="591.9301510838625" y="433.4" font-size="7.9" text-anchor="middle" fill="#111" stroke="#111" stroke-width="0.18" >yak</text>
<text x="617.7676811911539" y="433.4" font-size="7.9" text-anchor="middle" fill="#111" stroke="#111" stroke-width="0.18" >sim</text>
<text x="645.1379461353185" y="433.4" font-size="7.9" text-anchor="middle" fill="#111" stroke="#111" stroke-width="0.18" >ere</text>
<text x="662.8913247208233" y="433.4" font-size="7.9" text-anchor="start" fill="#111" stroke="#111" stroke-width="0.18" >yak</text>
<g stroke="#1a1a1a" stroke-width="0.85" fill="none"><circle cx="680.65" cy="431.40" r="2.3"/><path d="M681.95 429.50L683.85 426.10"/><path d="M680.45 426.30L684.05 425.80L684.55 428.20" stroke-linejoin="miter"/></g>
<path d="M485.4 349.0V385.4H479.0" stroke="#1a1a1a" stroke-width="0.85" fill="none"/>
<text x="482.9" y="380.9" font-size="7.9" text-anchor="start" fill="#111" stroke="#111" stroke-width="0.18" transform="rotate(-90 482.9 380.9)" >1 <tspan font-style="italic">ΔF</tspan>/<tspan font-style="italic">F</tspan></text>
<text x="487.4" y="396.4" font-size="7.9" text-anchor="end" fill="#111" stroke="#111" stroke-width="0.18" >2 s</text>
<path d="M487.9 384.3L488.3 385.3L488.7 386.3L489.1 386.6L489.5 387.1L489.9 387.4L490.3 389.2L490.7 390.3L491.1 391.6L491.5 394.1L491.9 392.9L492.3 392.3L492.7 389.3L493.1 388.5L493.5 386.5L493.9 384.3L494.3 383.3L494.7 381.2L495.1 381.6L495.5 382.9L495.9 382.4L496.3 382.4L496.7 383.2L497.1 383.9L497.5 383.2L497.9 383.1L498.3 384.3L498.7 383.9L499.1 383.6L499.5 384.5L499.9 383.8L500.3 384.7L500.7 384.2L501.1 384.9L501.5 385.7L501.9 386.0L502.3 385.9L502.7 385.0L503.1 385.1L503.5 384.5L503.9 384.0L504.3 384.4L504.7 385.0L505.1 385.0L505.5 384.9L505.9 385.5L506.3 384.6L506.7 384.7L507.1 385.3L507.5 385.1L507.9 385.0L508.3 385.2L508.7 385.4" fill="none" stroke="#17813f" stroke-width="2.6" stroke-opacity="0.25" stroke-linejoin="round"/>
<path d="M487.9 384.3L488.3 385.3L488.7 386.3L489.1 386.6L489.5 387.1L489.9 387.4L490.3 389.2L490.7 390.3L491.1 391.6L491.5 394.1L491.9 392.9L492.3 392.3L492.7 389.3L493.1 388.5L493.5 386.5L493.9 384.3L494.3 383.3L494.7 381.2L495.1 381.6L495.5 382.9L495.9 382.4L496.3 382.4L496.7 383.2L497.1 383.9L497.5 383.2L497.9 383.1L498.3 384.3L498.7 383.9L499.1 383.6L499.5 384.5L499.9 383.8L500.3 384.7L500.7 384.2L501.1 384.9L501.5 385.7L501.9 386.0L502.3 385.9L502.7 385.0L503.1 385.1L503.5 384.5L503.9 384.0L504.3 384.4L504.7 385.0L505.1 385.0L505.5 384.9L505.9 385.5L506.3 384.6L506.7 384.7L507.1 385.3L507.5 385.1L507.9 385.0L508.3 385.2L508.7 385.4" fill="none" stroke="#17813f" stroke-width="1.05" stroke-linejoin="round"/>
<path d="M514.2 386.0L514.6 385.7L515.0 386.8L515.4 387.4L515.8 386.9L516.2 386.8L516.6 387.4L517.0 389.7L517.4 388.2L517.8 388.3L518.2 387.1L518.6 385.6L519.0 385.4L519.4 383.0L519.8 382.2L520.2 381.7L520.6 380.0L521.0 380.3L521.4 378.9L521.8 379.9L522.2 380.8L522.6 382.6L523.0 382.9L523.4 383.6L523.8 383.9L524.2 384.3L524.6 384.7L525.0 384.3L525.4 383.6L525.8 384.3L526.2 384.0L526.6 384.1L527.0 385.2L527.4 386.0L527.8 385.3L528.2 385.7L528.6 385.9L529.0 386.5L529.4 386.0L529.8 386.0L530.2 386.0L530.6 385.3L531.0 385.8L531.4 386.0L531.8 384.7L532.2 386.4L532.6 386.2L533.0 385.5L533.4 386.2L533.8 386.7L534.2 387.2L534.6 386.2L535.0 386.4" fill="none" stroke="#b040aa" stroke-width="2.6" stroke-opacity="0.25" stroke-linejoin="round"/>
<path d="M514.2 386.0L514.6 385.7L515.0 386.8L515.4 387.4L515.8 386.9L516.2 386.8L516.6 387.4L517.0 389.7L517.4 388.2L517.8 388.3L518.2 387.1L518.6 385.6L519.0 385.4L519.4 383.0L519.8 382.2L520.2 381.7L520.6 380.0L521.0 380.3L521.4 378.9L521.8 379.9L522.2 380.8L522.6 382.6L523.0 382.9L523.4 383.6L523.8 383.9L524.2 384.3L524.6 384.7L525.0 384.3L525.4 383.6L525.8 384.3L526.2 384.0L526.6 384.1L527.0 385.2L527.4 386.0L527.8 385.3L528.2 385.7L528.6 385.9L529.0 386.5L529.4 386.0L529.8 386.0L530.2 386.0L530.6 385.3L531.0 385.8L531.4 386.0L531.8 384.7L532.2 386.4L532.6 386.2L533.0 385.5L533.4 386.2L533.8 386.7L534.2 387.2L534.6 386.2L535.0 386.4" fill="none" stroke="#b040aa" stroke-width="1.05" stroke-linejoin="round"/>
<path d="M492.7 403.9v4.6" stroke="#111" stroke-width="1.3"/>
<path d="M518.7 403.9v4.6" stroke="#111" stroke-width="1.3"/>
<g stroke="#1a1a1a" stroke-width="0.85" fill="none"><circle cx="490.80" cy="414.00" r="2.4"/><path d="M490.80 416.40V420.80M488.45 418.40H493.15"/></g>
<text x="495.4" y="419.0" font-size="7.9" text-anchor="start" fill="#111" stroke="#111" stroke-width="0.18" >mel</text>
<g stroke="#1a1a1a" stroke-width="0.85" fill="none"><circle cx="517.80" cy="414.00" r="2.4"/><path d="M517.80 416.40V420.80M515.45 418.40H520.15"/></g>
<text x="522.0" y="419.0" font-size="7.9" text-anchor="start" fill="#111" stroke="#111" stroke-width="0.18" >yak</text>
<g stroke="#1a1a1a" stroke-width="0.85" fill="none"><circle cx="460.70" cy="463.70" r="2.3"/><path d="M462.00 461.80L463.90 458.40"/><path d="M460.50 458.60L464.10 458.10L464.60 460.50" stroke-linejoin="miter"/></g>
<text x="467.6" y="466.0" font-size="8.1" text-anchor="start" fill="#111" stroke="#111" stroke-width="0.18" ><tspan font-style="italic">D. yakuba</tspan> – Δppk25; fru&gt;GCaMP</text>
<path d="M551.9 475.5V562.2M549.5 475.5H551.9M549.5 562.2H551.9" stroke="#1a1a1a" stroke-width="0.85" fill="none"/>
<text x="546.9" y="478.3" font-size="7.9" text-anchor="end" fill="#111" stroke="#111" stroke-width="0.18" >3</text>
<text x="546.9" y="565.0" font-size="7.9" text-anchor="end" fill="#111" stroke="#111" stroke-width="0.18" >0</text>
<text x="548.6999999999999" y="519.35" font-size="7.9" text-anchor="middle" fill="#111" stroke="#111" stroke-width="0.18" transform="rotate(-90 548.6999999999999 519.35)" ><tspan font-style="italic">ΔF</tspan>/<tspan font-style="italic">F</tspan></text>
<text x="563.9029997810379" y="479.2" font-size="7.9" text-anchor="middle" fill="#111" stroke="#111" stroke-width="0.18" >a</text>
<text x="591.9301510838625" y="479.2" font-size="7.9" text-anchor="middle" fill="#111" stroke="#111" stroke-width="0.18" >b</text>
<text x="618.6435296693672" y="479.2" font-size="7.9" text-anchor="middle" fill="#111" stroke="#111" stroke-width="0.18" >b</text>
<text x="645.1379461353185" y="479.2" font-size="7.9" text-anchor="middle" fill="#111" stroke="#111" stroke-width="0.18" >a</text>
<text x="671.8513247208233" y="479.2" font-size="7.9" text-anchor="middle" fill="#111" stroke="#111" stroke-width="0.18" >b</text>
<circle cx="563.9" cy="505.7" r="2.6" fill="none" stroke="#7cc095" stroke-width="0.7"/>
<circle cx="559.5" cy="520.4" r="2.6" fill="none" stroke="#7cc095" stroke-width="0.7"/>
<circle cx="568.9" cy="522.2" r="2.6" fill="none" stroke="#7cc095" stroke-width="0.7"/>
<circle cx="559.5" cy="525.4" r="2.6" fill="none" stroke="#7cc095" stroke-width="0.7"/>
<circle cx="568.9" cy="528.1" r="2.6" fill="none" stroke="#7cc095" stroke-width="0.7"/>
<circle cx="559.5" cy="530.3" r="2.6" fill="none" stroke="#7cc095" stroke-width="0.7"/>
<circle cx="568.9" cy="533.8" r="2.6" fill="none" stroke="#7cc095" stroke-width="0.7"/>
<circle cx="563.9" cy="540.3" r="2.6" fill="none" stroke="#7cc095" stroke-width="0.7"/>
<circle cx="564.6" cy="525.0" r="2.6" fill="none" stroke="#7cc095" stroke-width="0.7"/>
<circle cx="593.0" cy="545.6" r="2.6" fill="none" stroke="#cf8fd6" stroke-width="0.7"/>
<circle cx="587.6" cy="548.4" r="2.6" fill="none" stroke="#cf8fd6" stroke-width="0.7"/>
<circle cx="597.4" cy="551.7" r="2.6" fill="none" stroke="#cf8fd6" stroke-width="0.7"/>
<circle cx="587.6" cy="553.9" r="2.6" fill="none" stroke="#cf8fd6" stroke-width="0.7"/>
<circle cx="592.4" cy="553.9" r="2.6" fill="none" stroke="#cf8fd6" stroke-width="0.7"/>
<circle cx="597.4" cy="557.9" r="2.6" fill="none" stroke="#cf8fd6" stroke-width="0.7"/>
<circle cx="587.6" cy="559.4" r="2.6" fill="none" stroke="#cf8fd6" stroke-width="0.7"/>
<circle cx="592.4" cy="558.7" r="2.6" fill="none" stroke="#cf8fd6" stroke-width="0.7"/>
<circle cx="618.2" cy="545.6" r="2.6" fill="none" stroke="#7fd0c0" stroke-width="0.7"/>
<circle cx="611.6" cy="550.6" r="2.6" fill="none" stroke="#7fd0c0" stroke-width="0.7"/>
<circle cx="625.2" cy="551.3" r="2.6" fill="none" stroke="#7fd0c0" stroke-width="0.7"/>
<circle cx="618.6" cy="553.5" r="2.6" fill="none" stroke="#7fd0c0" stroke-width="0.7"/>
<circle cx="611.6" cy="557.2" r="2.6" fill="none" stroke="#7fd0c0" stroke-width="0.7"/>
<circle cx="625.2" cy="557.2" r="2.6" fill="none" stroke="#7fd0c0" stroke-width="0.7"/>
<circle cx="621.5" cy="553.9" r="2.6" fill="none" stroke="#7fd0c0" stroke-width="0.7"/>
<circle cx="642.7" cy="515.6" r="2.6" fill="none" stroke="#8c7fd6" stroke-width="0.7"/>
<circle cx="648.9" cy="515.6" r="2.6" fill="none" stroke="#8c7fd6" stroke-width="0.7"/>
<circle cx="648.9" cy="522.2" r="2.6" fill="none" stroke="#8c7fd6" stroke-width="0.7"/>
<circle cx="642.7" cy="527.6" r="2.6" fill="none" stroke="#8c7fd6" stroke-width="0.7"/>
<circle cx="648.9" cy="533.8" r="2.6" fill="none" stroke="#8c7fd6" stroke-width="0.7"/>
<circle cx="645.6" cy="540.3" r="2.6" fill="none" stroke="#8c7fd6" stroke-width="0.7"/>
<circle cx="641.2" cy="544.7" r="2.6" fill="none" stroke="#8c7fd6" stroke-width="0.7"/>
<circle cx="650.0" cy="544.7" r="2.6" fill="none" stroke="#8c7fd6" stroke-width="0.7"/>
<circle cx="671.9" cy="540.3" r="2.6" fill="none" stroke="#555555" stroke-width="0.7"/>
<circle cx="670.3" cy="546.2" r="2.6" fill="none" stroke="#555555" stroke-width="0.7"/>
<circle cx="674.7" cy="547.3" r="2.6" fill="none" stroke="#555555" stroke-width="0.7"/>
<circle cx="669.0" cy="551.7" r="2.6" fill="none" stroke="#555555" stroke-width="0.7"/>
<circle cx="675.1" cy="552.8" r="2.6" fill="none" stroke="#555555" stroke-width="0.7"/>
<circle cx="670.3" cy="555.7" r="2.6" fill="none" stroke="#555555" stroke-width="0.7"/>
<circle cx="674.7" cy="556.1" r="2.6" fill="none" stroke="#555555" stroke-width="0.7"/>
<circle cx="671.9" cy="553.9" r="2.6" fill="none" stroke="#555555" stroke-width="0.7"/>
<path d="M563.9 522.8V528.1M562.2 525.4H565.7" stroke="#111" stroke-width="0.7" fill="none"/>
<path d="M591.5 551.7V555.2M589.7 553.5H593.2" stroke="#111" stroke-width="0.7" fill="none"/>
<path d="M618.2 551.1V553.7M616.5 552.4H620.0" stroke="#111" stroke-width="0.7" fill="none"/>
<path d="M645.6 526.1V534.6M643.8 530.3H647.3" stroke="#111" stroke-width="0.7" fill="none"/>
<path d="M671.9 548.2V553.0M670.1 550.6H673.6" stroke="#111" stroke-width="0.7" fill="none"/>
<g stroke="#1a1a1a" stroke-width="0.85" fill="none"><circle cx="553.50" cy="568.60" r="2.4"/><path d="M553.50 571.00V575.40M551.15 573.00H555.85"/></g>
<text x="559.102999781038" y="573.6" font-size="7.9" text-anchor="start" fill="#111" stroke="#111" stroke-width="0.18" >mel</text>
<text x="591.9301510838625" y="573.6" font-size="7.9" text-anchor="middle" fill="#111" stroke="#111" stroke-width="0.18" >yak</text>
<text x="618.6435296693672" y="573.6" font-size="7.9" text-anchor="middle" fill="#111" stroke="#111" stroke-width="0.18" >sim</text>
<text x="645.1379461353185" y="573.6" font-size="7.9" text-anchor="middle" fill="#111" stroke="#111" stroke-width="0.18" >ere</text>
<text x="663.4513247208233" y="573.6" font-size="7.9" text-anchor="start" fill="#111" stroke="#111" stroke-width="0.18" >yak</text>
<g stroke="#1a1a1a" stroke-width="0.85" fill="none"><circle cx="681.35" cy="571.60" r="2.3"/><path d="M682.65 569.70L684.55 566.30"/><path d="M681.15 566.50L684.75 566.00L685.25 568.40" stroke-linejoin="miter"/></g>
<path d="M485.8 505.2V541.0H479.4" stroke="#1a1a1a" stroke-width="0.85" fill="none"/>
<text x="483.3" y="536.5" font-size="7.9" text-anchor="start" fill="#111" stroke="#111" stroke-width="0.18" transform="rotate(-90 483.3 536.5)" >1 <tspan font-style="italic">ΔF</tspan>/<tspan font-style="italic">F</tspan></text>
<text x="487.8" y="548.4" font-size="7.9" text-anchor="end" fill="#111" stroke="#111" stroke-width="0.18" >2 s</text>
<path d="M487.9 540.8L488.3 540.8L488.7 541.0L489.1 540.8L489.5 541.1L489.9 541.0L490.3 541.6L490.7 541.9L491.0 542.0L491.5 533.2L491.9 524.4L492.4 515.5L492.8 506.7L493.3 497.9L493.7 501.1L494.1 504.0L494.5 506.3L494.9 509.1L495.3 511.4L495.7 513.5L496.1 515.1L496.5 517.0L496.9 518.4L497.3 520.2L497.7 521.6L498.1 522.5L498.5 523.6L498.9 524.9L499.3 525.9L499.7 527.0L500.1 527.7L500.5 528.2L500.9 529.4L501.3 529.6L501.7 530.7L502.1 530.9L502.5 531.5L502.9 532.3L503.3 532.3L503.7 532.7L504.1 533.4L504.5 533.8L504.9 534.2L505.3 534.4L505.7 534.9L506.1 534.9L506.5 535.4L506.9 535.1L507.3 535.4L507.7 535.7" fill="none" stroke="#17813f" stroke-width="2.6" stroke-opacity="0.25" stroke-linejoin="round"/>
<path d="M487.9 540.8L488.3 540.8L488.7 541.0L489.1 540.8L489.5 541.1L489.9 541.0L490.3 541.6L490.7 541.9L491.0 542.0L491.5 533.2L491.9 524.4L492.4 515.5L492.8 506.7L493.3 497.9L493.7 501.1L494.1 504.0L494.5 506.3L494.9 509.1L495.3 511.4L495.7 513.5L496.1 515.1L496.5 517.0L496.9 518.4L497.3 520.2L497.7 521.6L498.1 522.5L498.5 523.6L498.9 524.9L499.3 525.9L499.7 527.0L500.1 527.7L500.5 528.2L500.9 529.4L501.3 529.6L501.7 530.7L502.1 530.9L502.5 531.5L502.9 532.3L503.3 532.3L503.7 532.7L504.1 533.4L504.5 533.8L504.9 534.2L505.3 534.4L505.7 534.9L506.1 534.9L506.5 535.4L506.9 535.1L507.3 535.4L507.7 535.7" fill="none" stroke="#17813f" stroke-width="1.05" stroke-linejoin="round"/>
<path d="M514.2 541.5L514.6 542.0L515.0 542.2L515.4 542.6L515.8 543.6L516.2 544.2L516.6 545.1L517.0 546.5L517.1 546.9L517.5 542.5L518.0 538.0L518.4 533.6L518.8 529.2L519.2 530.4L519.6 531.3L520.0 531.5L520.4 532.8L520.8 533.5L521.2 533.8L521.6 534.4L522.0 534.6L522.4 535.4L522.8 535.8L523.2 536.3L523.6 536.2L524.0 537.3L524.4 537.3L524.8 537.5L525.2 538.1L525.6 538.2L526.0 538.3L526.4 538.7L526.8 538.4L527.2 539.0L527.6 539.0L528.0 539.6L528.4 539.8L528.8 539.4L529.2 539.7L529.6 539.5L530.0 539.8L530.4 540.2L530.8 540.4L531.2 540.2L531.6 540.1L532.0 540.1L532.4 540.5L532.8 540.8L533.2 540.2L533.6 540.8L534.0 540.2" fill="none" stroke="#b040aa" stroke-width="2.6" stroke-opacity="0.25" stroke-linejoin="round"/>
<path d="M514.2 541.5L514.6 542.0L515.0 542.2L515.4 542.6L515.8 543.6L516.2 544.2L516.6 545.1L517.0 546.5L517.1 546.9L517.5 542.5L518.0 538.0L518.4 533.6L518.8 529.2L519.2 530.4L519.6 531.3L520.0 531.5L520.4 532.8L520.8 533.5L521.2 533.8L521.6 534.4L522.0 534.6L522.4 535.4L522.8 535.8L523.2 536.3L523.6 536.2L524.0 537.3L524.4 537.3L524.8 537.5L525.2 538.1L525.6 538.2L526.0 538.3L526.4 538.7L526.8 538.4L527.2 539.0L527.6 539.0L528.0 539.6L528.4 539.8L528.8 539.4L529.2 539.7L529.6 539.5L530.0 539.8L530.4 540.2L530.8 540.4L531.2 540.2L531.6 540.1L532.0 540.1L532.4 540.5L532.8 540.8L533.2 540.2L533.6 540.8L534.0 540.2" fill="none" stroke="#b040aa" stroke-width="1.05" stroke-linejoin="round"/>
<path d="M492.6 557.3v4.6" stroke="#111" stroke-width="1.3"/>
<path d="M518.4 557.3v4.6" stroke="#111" stroke-width="1.3"/>
<g stroke="#1a1a1a" stroke-width="0.85" fill="none"><circle cx="488.60" cy="568.60" r="2.4"/><path d="M488.60 571.00V575.40M486.25 573.00H490.95"/></g>
<text x="493.20000000000005" y="573.6" font-size="7.9" text-anchor="start" fill="#111" stroke="#111" stroke-width="0.18" >mel</text>
<g stroke="#1a1a1a" stroke-width="0.85" fill="none"><circle cx="515.80" cy="568.60" r="2.4"/><path d="M515.80 571.00V575.40M513.45 573.00H518.15"/></g>
<text x="520.0" y="573.6" font-size="7.9" text-anchor="start" fill="#111" stroke="#111" stroke-width="0.18" >yak</text>
<text x="94.4" y="471.6" font-size="7.9" text-anchor="middle" fill="#111" stroke="#111" stroke-width="0.18" font-style="italic" >D. melanogaster</text>
<text x="52.8" y="488.0" font-size="7.9" text-anchor="middle" fill="#111" stroke="#111" stroke-width="0.18" >P1</text>
<rect x="60.2" y="478.0" width="70.8" height="14.7" rx="7.35" fill="#fff" stroke="#3a9a5e" stroke-width="0.9"/>
<text x="75.2" y="487.6" font-size="7.0" text-anchor="middle" fill="#111" stroke="#111" stroke-width="0.18" >+</text>
<text x="112.4" y="488.4" font-size="7.0" text-anchor="middle" fill="#111" stroke="#111" stroke-width="0.18" >−</text>
<path d="M75.2 527.4V500" stroke="#3a9a5e" stroke-width="0.8" stroke-dasharray="2.1 1.2" fill="none"/>
<path d="M75.2 495.2L77.10000000000001 500.4H73.3Z" fill="#3a9a5e"/>
<path d="M105.5 496.3H119.30000000000001" stroke="#3a9a5e" stroke-width="0.9"/>
<path d="M112.4 497V527.4" stroke="#3a9a5e" stroke-width="0.8" stroke-dasharray="2.1 1.2" fill="none"/>
<rect x="56.6" y="527.7" width="36.3" height="21.9" rx="10.9" fill="#fff" stroke="#3a9a5e" stroke-width="0.9"/>
<rect x="94.4" y="527.7" width="36.3" height="21.9" rx="10.9" fill="#fff" stroke="#3a9a5e" stroke-width="0.9"/>
<text x="74.8" y="536.6" font-size="7.9" text-anchor="middle" fill="#111" stroke="#111" stroke-width="0.18" >ppk23</text>
<text x="74.8" y="545.3" font-size="7.9" text-anchor="middle" fill="#111" stroke="#111" stroke-width="0.18" >ppk25</text>
<text x="112.5" y="542.1" font-size="7.9" text-anchor="middle" fill="#111" stroke="#111" stroke-width="0.18" >ppk23</text>
<text x="75.2" y="560.7" font-size="7.9" text-anchor="middle" fill="#111" stroke="#111" stroke-width="0.18" >7,11-HD</text>
<text x="112.4" y="560.7" font-size="7.9" text-anchor="middle" fill="#111" stroke="#111" stroke-width="0.18" >7-T</text>
<text x="64.6" y="571.2" font-size="7.9" text-anchor="start" fill="#111" stroke="#111" stroke-width="0.18" >con</text>
<g stroke="#1a1a1a" stroke-width="0.85" fill="none"><circle cx="80.80" cy="566.20" r="2.4"/><path d="M80.80 568.60V573.00M78.45 570.60H83.15"/></g>
<text x="103.0" y="571.2" font-size="7.9" text-anchor="start" fill="#111" stroke="#111" stroke-width="0.18" >het</text>
<g stroke="#1a1a1a" stroke-width="0.85" fill="none"><circle cx="117.60" cy="566.20" r="2.4"/><path d="M117.60 568.60V573.00M115.25 570.60H119.95"/></g>
<text x="221.7" y="471.6" font-size="7.9" text-anchor="middle" fill="#111" stroke="#111" stroke-width="0.18" font-style="italic" >D. yakuba</text>
<text x="179.3" y="488.0" font-size="7.9" text-anchor="middle" fill="#111" stroke="#111" stroke-width="0.18" >P1</text>
<rect x="186.7" y="478.0" width="70.8" height="14.7" rx="7.35" fill="#fff" stroke="#b04fb6" stroke-width="0.9"/>
<text x="203.2" y="487.6" font-size="7.0" text-anchor="middle" fill="#111" stroke="#111" stroke-width="0.18" >+</text>
<text x="240.4" y="488.4" font-size="7.0" text-anchor="middle" fill="#111" stroke="#111" stroke-width="0.18" >−</text>
<path d="M203.2 527.4V500" stroke="#b04fb6" stroke-width="0.8" stroke-dasharray="2.1 1.2" fill="none"/>
<path d="M203.2 495.2L205.1 500.4H201.29999999999998Z" fill="#b04fb6"/>
<path d="M233.5 496.3H247.3" stroke="#b04fb6" stroke-width="0.9"/>
<path d="M240.4 497V527.4" stroke="#b04fb6" stroke-width="0.8" stroke-dasharray="2.1 1.2" fill="none"/>
<rect x="184.6" y="527.7" width="36.3" height="21.9" rx="10.9" fill="#fff" stroke="#b04fb6" stroke-width="0.9"/>
<rect x="222.4" y="527.7" width="36.3" height="21.9" rx="10.9" fill="#fff" stroke="#b04fb6" stroke-width="0.9"/>
<text x="202.8" y="536.6" font-size="7.9" text-anchor="middle" fill="#111" stroke="#111" stroke-width="0.18" >ppk23</text>
<text x="202.8" y="545.3" font-size="7.9" text-anchor="middle" fill="#111" stroke="#111" stroke-width="0.18" >ppk25</text>
<text x="240.5" y="542.1" font-size="7.9" text-anchor="middle" fill="#111" stroke="#111" stroke-width="0.18" >ppk23</text>
<text x="203.2" y="560.7" font-size="7.9" text-anchor="middle" fill="#111" stroke="#111" stroke-width="0.18" >7-T</text>
<text x="240.4" y="560.7" font-size="7.9" text-anchor="middle" fill="#111" stroke="#111" stroke-width="0.18" >7,11-HD</text>
<text x="192.6" y="571.2" font-size="7.9" text-anchor="start" fill="#111" stroke="#111" stroke-width="0.18" >con</text>
<g stroke="#1a1a1a" stroke-width="0.85" fill="none"><circle cx="208.80" cy="566.20" r="2.4"/><path d="M208.80 568.60V573.00M206.45 570.60H211.15"/></g>
<text x="231.0" y="571.2" font-size="7.9" text-anchor="start" fill="#111" stroke="#111" stroke-width="0.18" >het</text>
<g stroke="#1a1a1a" stroke-width="0.85" fill="none"><circle cx="245.60" cy="566.20" r="2.4"/><path d="M245.60 568.60V573.00M243.25 570.60H247.95"/></g>
<text x="350.2" y="471.6" font-size="7.9" text-anchor="middle" fill="#111" stroke="#111" stroke-width="0.18" font-style="italic" >D. simulans</text>
<text x="309.6" y="488.0" font-size="7.9" text-anchor="middle" fill="#111" stroke="#111" stroke-width="0.18" >P1</text>
<rect x="353.5" y="478.0" width="32.2" height="14.7" rx="4.6" fill="#fff" stroke="#6fc7b3" stroke-width="0.9"/>
<text x="332.0" y="489.0" font-size="7.2" text-anchor="middle" fill="#111" stroke="#111" stroke-width="0.18" >?</text>
<text x="369.20000000000005" y="488.4" font-size="7.0" text-anchor="middle" fill="#111" stroke="#111" stroke-width="0.18" >−</text>
<path d="M332.0 527.4V500" stroke="#b5e3d9" stroke-width="0.8" stroke-dasharray="2.1 1.2" fill="none"/>
<path d="M332.0 495.2L333.9 500.4H330.1Z" fill="#b5e3d9"/>
<path d="M362.30000000000007 496.3H376.1" stroke="#6fc7b3" stroke-width="0.9"/>
<path d="M369.20000000000005 497V527.4" stroke="#6fc7b3" stroke-width="0.8" stroke-dasharray="2.1 1.2" fill="none"/>
<rect x="313.40000000000003" y="527.7" width="36.3" height="21.9" rx="10.9" fill="#fff" stroke="#6fc7b3" stroke-width="0.9"/>
<rect x="351.20000000000005" y="527.7" width="36.3" height="21.9" rx="10.9" fill="#fff" stroke="#6fc7b3" stroke-width="0.9"/>
<text x="331.6" y="536.6" font-size="7.9" text-anchor="middle" fill="#111" stroke="#111" stroke-width="0.18" >ppk23</text>
<text x="331.6" y="545.3" font-size="7.9" text-anchor="middle" fill="#111" stroke="#111" stroke-width="0.18" >ppk25</text>
<text x="369.3" y="542.1" font-size="7.9" text-anchor="middle" fill="#111" stroke="#111" stroke-width="0.18" >ppk23</text>
<text x="332.0" y="560.7" font-size="7.9" text-anchor="middle" fill="#111" stroke="#111" stroke-width="0.18" >7-T</text>
<text x="369.20000000000005" y="560.7" font-size="7.9" text-anchor="middle" fill="#111" stroke="#111" stroke-width="0.18" >7,11-HD</text>
<text x="321.4" y="571.2" font-size="7.9" text-anchor="start" fill="#111" stroke="#111" stroke-width="0.18" >con</text>
<g stroke="#1a1a1a" stroke-width="0.85" fill="none"><circle cx="337.60" cy="566.20" r="2.4"/><path d="M337.60 568.60V573.00M335.25 570.60H339.95"/></g>
<text x="359.8" y="571.2" font-size="7.9" text-anchor="start" fill="#111" stroke="#111" stroke-width="0.18" >het</text>
<g stroke="#1a1a1a" stroke-width="0.85" fill="none"><circle cx="374.40" cy="566.20" r="2.4"/><path d="M374.40 568.60V573.00M372.05 570.60H376.75"/></g>
</svg>
</body></html>
